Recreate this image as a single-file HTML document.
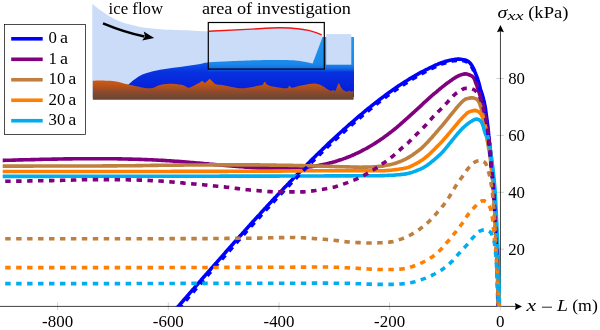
<!DOCTYPE html>
<html><head><meta charset="utf-8"><style>
html,body{margin:0;padding:0;background:#fff;width:600px;height:330px;overflow:hidden}
svg{display:block;will-change:transform;font-family:"Liberation Serif",serif;font-size:16.5px;fill:#000}
</style></head><body>
<svg width="600" height="330" viewBox="0 0 600 330">
<defs>
<clipPath id="pc"><rect x="0" y="0" width="600" height="306.6"/></clipPath>
<linearGradient id="rock" gradientUnits="userSpaceOnUse" x1="0" y1="80" x2="0" y2="100"><stop offset="0" stop-color="#d65a0e"/><stop offset="0.3" stop-color="#b8521a"/><stop offset="0.6" stop-color="#8c4a2c"/><stop offset="0.8" stop-color="#764834"/><stop offset="1" stop-color="#6c4432"/></linearGradient>
<linearGradient id="water" gradientUnits="userSpaceOnUse" x1="0" y1="60" x2="0" y2="97"><stop offset="0" stop-color="#1466e8"/><stop offset="0.16" stop-color="#0c4ae4"/><stop offset="0.32" stop-color="#0832e0"/><stop offset="1" stop-color="#0418d4"/></linearGradient>
<linearGradient id="band" gradientUnits="userSpaceOnUse" x1="0" y1="37" x2="0" y2="71.5"><stop offset="0" stop-color="#2196ee"/><stop offset="0.78" stop-color="#1a88e8"/><stop offset="0.9" stop-color="#1570e6"/><stop offset="1" stop-color="#0c40e2"/></linearGradient>
</defs>
<line x1="57.6" y1="302.4" x2="57.6" y2="309.9" stroke="#b0b0b0" stroke-width="0.6"/>
<line x1="168.3" y1="302.4" x2="168.3" y2="309.9" stroke="#b0b0b0" stroke-width="0.6"/>
<line x1="279.0" y1="302.4" x2="279.0" y2="309.9" stroke="#b0b0b0" stroke-width="0.6"/>
<line x1="389.6" y1="302.4" x2="389.6" y2="309.9" stroke="#b0b0b0" stroke-width="0.6"/>
<line x1="500.3" y1="302.4" x2="500.3" y2="309.9" stroke="#b0b0b0" stroke-width="0.6"/>
<line x1="496.5" y1="249.2" x2="504" y2="249.2" stroke="#b0b0b0" stroke-width="0.6"/>
<line x1="496.5" y1="192.3" x2="504" y2="192.3" stroke="#b0b0b0" stroke-width="0.6"/>
<line x1="496.5" y1="135.4" x2="504" y2="135.4" stroke="#b0b0b0" stroke-width="0.6"/>
<line x1="496.5" y1="78.5" x2="504" y2="78.5" stroke="#b0b0b0" stroke-width="0.6"/>

<line x1="0" y1="306.4" x2="516" y2="306.4" stroke="#000" stroke-width="0.75"/>
<path d="M522 306.4 L514.8 302.9 L515.8 306.4 L514.8 309.9 Z" fill="#000"/>
<line x1="500.45" y1="306.4" x2="500.45" y2="31" stroke="#000" stroke-width="0.75"/>
<path d="M500.45 25 L496.95 32.2 L500.45 31.2 L503.95 32.2 Z" fill="#000"/>

<g clip-path="url(#pc)">
<path d="M173.5 311.9 174.5 310.7 175.5 309.6 176.5 308.5 177.4 307.3 178.4 306.2 179.4 305.1 180.4 303.9 181.4 302.8 182.4 301.7 183.4 300.5 184.3 299.4 185.3 298.3 186.3 297.1 187.3 296.0 188.3 294.9 189.3 293.7 190.2 292.6 191.2 291.5 192.2 290.3 193.2 289.2 194.2 288.1 195.2 286.9 196.1 285.8 197.1 284.7 198.1 283.6 199.1 282.4 200.1 281.3 201.1 280.2 202.0 279.0 203.0 277.9 204.0 276.8 205.0 275.6 206.0 274.5 207.0 273.4 208.0 272.3 209.0 271.1 210.0 270.0 210.9 268.9 211.9 267.8 212.9 266.6 213.9 265.5 214.9 264.4 215.9 263.3 216.9 262.1 217.9 261.0 218.9 259.9 219.9 258.8 220.9 257.6 221.9 256.5 222.9 255.4 223.9 254.3 224.9 253.1 225.8 252.0 226.8 250.9 227.8 249.8 228.8 248.7 229.8 247.5 230.8 246.4 231.8 245.3 232.8 244.2 233.8 243.0 234.8 241.9 235.8 240.8 236.8 239.7 237.8 238.6 238.8 237.4 239.8 236.3 240.8 235.2 241.8 234.1 242.8 233.0 243.8 231.9 244.8 230.7 245.8 229.6 246.8 228.5 247.8 227.4 248.8 226.3 249.8 225.2 250.8 224.0 251.8 222.9 252.8 221.8 253.8 220.7 254.8 219.6 255.8 218.5 256.8 217.4 257.8 216.3 258.9 215.2 259.9 214.1 260.9 212.9 261.9 211.8 262.9 210.7 263.9 209.6 264.9 208.5 266.0 207.4 267.0 206.3 268.0 205.2 269.0 204.1 270.0 203.0 271.1 201.9 272.1 200.8 273.1 199.7 274.1 198.6 275.1 197.5 276.2 196.5 277.2 195.4 278.2 194.3 279.3 193.2 280.3 192.1 281.3 191.0 282.4 189.9 283.4 188.8 284.4 187.7 285.5 186.7 286.5 185.6 287.5 184.5 288.6 183.4 289.6 182.3 290.6 181.3 291.7 180.2 292.7 179.1 293.8 178.0 294.8 176.9 295.9 175.9 296.9 174.8 298.0 173.7 299.0 172.7 300.1 171.6 301.1 170.5 302.2 169.4 303.2 168.4 304.3 167.3 305.3 166.2 306.4 165.2 307.4 164.1 308.5 163.1 309.6 162.0 310.6 160.9 311.7 159.9 312.7 158.8 313.8 157.8 314.9 156.7 315.9 155.7 317.0 154.6 318.1 153.6 319.2 152.5 320.2 151.5 321.3 150.5 322.4 149.4 323.5 148.4 324.6 147.3 325.7 146.3 326.7 145.3 327.8 144.2 328.9 143.2 330.0 142.2 331.1 141.2 332.2 140.2 333.3 139.1 334.4 138.1 335.5 137.1 336.6 136.1 337.7 135.1 338.8 134.0 339.9 133.0 341.0 132.0 342.1 131.0 343.2 130.0 344.4 129.0 345.5 128.0 346.6 127.0 347.7 126.0 348.8 125.0 350.0 124.0 351.1 123.0 352.2 122.1 353.4 121.1 354.5 120.1 355.6 119.1 356.8 118.2 357.9 117.2 359.0 116.2 360.2 115.2 361.3 114.3 362.5 113.3 363.6 112.4 364.8 111.4 365.9 110.4 367.1 109.5 368.3 108.5 369.4 107.6 370.6 106.7 371.8 105.7 372.9 104.8 374.1 103.9 375.3 102.9 376.5 102.0 377.6 101.1 378.8 100.2 380.0 99.3 381.2 98.4 382.4 97.5 383.6 96.6 384.8 95.7 386.0 94.8 387.2 93.9 388.4 93.0 389.6 92.1 390.9 91.3 392.1 90.4 393.3 89.5 394.5 88.7 395.8 87.8 397.0 87.0 398.3 86.1 399.5 85.3 400.8 84.5 402.0 83.7 403.3 82.9 404.5 82.1 405.8 81.3 407.1 80.5 408.3 79.7 409.6 78.9 410.9 78.1 412.2 77.4 413.5 76.6 414.8 75.9 416.1 75.1 417.4 74.4 418.7 73.6 420.0 72.9 421.3 72.2 422.6 71.5 424.0 70.8 425.3 70.1 426.6 69.5 428.0 68.8 429.3 68.1 430.7 67.5 432.0 66.8 433.4 66.2 434.7 65.5 436.1 64.9 437.5 64.3 438.8 63.7 440.2 63.2 441.6 62.7 443.1 62.2 444.5 61.8 445.9 61.3 447.3 60.9 448.8 60.6 450.3 60.2 451.7 59.9 453.2 59.7 454.7 59.4 456.2 59.2 457.6 59.1 459.1 59.1 460.6 59.3 462.1 59.5 463.6 59.7 465.1 60.0 466.5 60.5 467.9 61.2 469.2 62.2 470.3 63.3 471.3 64.6 472.2 66.0 472.9 67.3 473.6 68.7 474.3 70.1 474.8 71.6 475.4 73.0 475.9 74.4 476.5 75.8 477.0 77.2 477.6 78.7 478.0 80.1 478.5 81.7 478.9 83.2 479.3 84.6 479.6 86.1 480.0 87.5 480.4 88.9 480.8 90.3 481.3 91.7 481.8 93.2 482.2 94.6 482.6 96.1 483.1 97.6 483.4 99.0 483.8 100.5 484.2 102.0 484.5 103.6 484.8 105.1 485.1 106.6 485.4 108.2 485.6 109.8 485.8 111.3 486.0 112.8 486.2 114.3 486.4 115.7 486.6 117.2 486.8 118.7 487.0 120.2 487.2 121.7 487.4 123.2 487.6 124.7 487.8 126.2 488.0 127.7 488.1 129.3 488.3 130.8 488.5 132.4 488.6 133.9 488.7 135.4 488.9 136.8 489.0 138.3 489.2 139.8 489.3 141.2 489.5 142.7 489.7 144.2 489.8 145.7 490.0 147.2 490.2 148.7 490.3 150.3 490.5 151.9 490.6 153.4 490.7 154.9 490.8 156.4 490.9 157.9 491.0 159.3 491.2 160.8 491.3 162.2 491.5 163.7 491.6 165.1 491.8 166.6 491.9 168.1 492.1 169.5 492.3 171.0 492.5 172.5 492.7 174.0 492.8 175.5 493.0 177.0 493.2 178.5 493.3 180.1 493.5 181.6 493.6 183.1 493.8 184.7 493.9 186.2 494.0 187.7 494.1 189.3 494.3 190.8 494.4 192.4 494.4 194.0 494.5 195.5 494.6 197.1 494.7 198.6 494.8 200.1 494.8 201.6 494.9 203.1 495.0 204.7 495.0 206.2 495.1 207.7 495.1 209.2 495.2 210.7 495.3 212.2 495.3 213.7 495.4 215.2 495.4 216.7 495.5 218.2 495.6 219.7 495.6 221.2 495.7 222.6 495.8 224.1 495.8 225.6 495.9 227.1 496.0 228.6 496.0 230.1 496.1 231.6 496.2 233.1 496.2 234.6 496.3 236.1 496.4 237.6 496.5 239.1 496.5 240.6 496.6 242.1 496.7 243.6 496.7 245.1 496.8 246.6 496.9 248.1 496.9 249.7 497.0 251.2 497.0 252.7 497.1 254.2 497.1 255.7 497.2 257.2 497.3 258.8 497.3 260.3 497.4 261.8 497.4 263.3 497.5 264.8 497.5 266.3 497.6 267.9 497.6 269.4 497.6 270.9 497.7 272.4 497.7 273.9 497.8 275.4 497.8 276.9 497.9 278.4 497.9 280.0 497.9 281.5 498.0 283.0 498.0 284.5 498.1 286.0 498.1 287.5 498.1 289.0 498.2 290.6 498.2 292.1 498.2 293.6 498.3 295.1 498.3 296.6 498.3 298.1 498.4 299.6 498.4 301.1 498.4 302.6 498.5 304.2 498.5 305.7 498.5 307.3 498.5 308.8 498.6 310.4 498.6 311.8 498.6 312.0" stroke="#0000ff" stroke-width="3.60" fill="none" stroke-linejoin="round"/>
<path d="M2.7 160.4 4.2 160.4 5.7 160.3 7.2 160.3 8.7 160.2 10.2 160.2 11.7 160.2 13.2 160.1 14.7 160.1 16.2 160.0 17.7 160.0 19.2 159.9 20.7 159.9 22.2 159.9 23.7 159.8 25.2 159.8 26.7 159.8 28.2 159.7 29.7 159.7 31.2 159.6 32.7 159.6 34.2 159.6 35.7 159.5 37.2 159.5 38.7 159.5 40.2 159.4 41.7 159.4 43.2 159.3 44.7 159.3 46.2 159.3 47.7 159.2 49.2 159.2 50.7 159.2 52.2 159.1 53.7 159.1 55.2 159.1 56.7 159.1 58.2 159.0 59.7 159.0 61.2 159.0 62.7 159.0 64.2 158.9 65.7 158.9 67.2 158.9 68.7 158.9 70.2 158.9 71.7 158.9 73.2 158.8 74.7 158.8 76.2 158.8 77.7 158.8 79.2 158.8 80.7 158.8 82.2 158.8 83.7 158.8 85.2 158.7 86.7 158.7 88.2 158.7 89.7 158.7 91.2 158.7 92.7 158.7 94.2 158.7 95.7 158.7 97.2 158.7 98.7 158.7 100.2 158.7 101.7 158.7 103.2 158.7 104.7 158.7 106.2 158.7 107.7 158.7 109.2 158.7 110.7 158.8 112.2 158.8 113.7 158.8 115.2 158.8 116.7 158.8 118.2 158.9 119.7 158.9 121.2 158.9 122.7 159.0 124.2 159.0 125.7 159.0 127.2 159.0 128.7 159.1 130.2 159.1 131.7 159.1 133.2 159.2 134.7 159.2 136.2 159.3 137.7 159.3 139.2 159.4 140.7 159.4 142.2 159.5 143.7 159.5 145.2 159.6 146.7 159.6 148.2 159.7 149.7 159.8 151.2 159.8 152.7 159.9 154.2 160.0 155.7 160.0 157.2 160.1 158.7 160.2 160.2 160.3 161.7 160.4 163.1 160.4 164.6 160.5 166.1 160.6 167.6 160.7 169.1 160.8 170.6 160.9 172.1 161.0 173.6 161.1 175.1 161.2 176.6 161.3 178.1 161.4 179.6 161.5 181.1 161.6 182.6 161.8 184.1 161.9 185.6 162.0 187.1 162.1 188.6 162.2 190.1 162.4 191.6 162.5 193.1 162.6 194.6 162.7 196.1 162.9 197.6 163.0 199.0 163.1 200.5 163.3 202.0 163.4 203.5 163.5 205.0 163.7 206.5 163.8 208.0 163.9 209.5 164.1 211.0 164.2 212.5 164.3 214.0 164.5 215.5 164.6 217.0 164.7 218.5 164.9 220.0 165.0 221.5 165.1 223.0 165.3 224.4 165.4 225.9 165.5 227.4 165.7 228.9 165.8 230.4 165.9 231.9 166.0 233.4 166.2 234.9 166.3 236.4 166.4 237.9 166.5 239.4 166.6 240.9 166.7 242.4 166.8 243.9 167.0 245.4 167.1 246.9 167.2 248.4 167.3 249.9 167.4 251.4 167.5 252.9 167.6 254.4 167.7 255.9 167.8 257.3 167.9 258.8 167.9 260.3 167.9 261.8 167.9 263.3 167.9 264.8 167.9 266.3 167.9 267.8 167.9 269.3 167.9 270.8 167.9 272.3 167.9 273.8 167.9 275.3 167.9 276.8 167.9 278.3 167.9 279.8 167.9 281.3 167.9 282.8 167.9 284.3 167.9 285.8 167.9 287.3 167.9 288.8 167.9 290.3 167.9 291.8 167.8 293.3 167.8 294.8 167.8 296.3 167.8 297.8 167.8 299.3 167.8 300.8 167.8 302.3 167.7 303.8 167.6 305.3 167.4 306.8 167.3 308.3 167.1 309.8 166.8 311.3 166.6 312.8 166.4 314.2 166.1 315.7 165.9 317.2 165.7 318.7 165.4 320.2 165.1 321.6 164.9 323.1 164.5 324.6 164.2 326.0 163.9 327.5 163.6 329.0 163.2 330.4 162.8 331.9 162.5 333.3 162.1 334.8 161.7 336.2 161.2 337.6 160.8 339.1 160.3 340.5 159.8 341.9 159.4 343.3 158.9 344.8 158.4 346.2 157.8 347.6 157.3 349.0 156.7 350.4 156.2 351.7 155.6 353.1 155.0 354.5 154.4 355.9 153.7 357.2 153.1 358.6 152.5 359.9 151.8 361.3 151.1 362.6 150.4 363.9 149.7 365.3 149.0 366.6 148.3 367.9 147.6 369.2 146.8 370.5 146.0 371.8 145.3 373.1 144.5 374.3 143.7 375.6 142.9 376.9 142.1 378.1 141.3 379.4 140.4 380.6 139.6 381.9 138.7 383.1 137.9 384.3 137.0 385.5 136.1 386.8 135.2 388.0 134.3 389.2 133.4 390.3 132.5 391.5 131.6 392.7 130.6 393.9 129.7 395.1 128.8 396.2 127.8 397.4 126.8 398.5 125.9 399.7 124.9 400.8 123.9 401.9 122.9 403.1 121.9 404.2 120.9 405.3 119.9 406.4 118.9 407.6 117.9 408.7 116.9 409.8 115.9 410.9 114.9 412.0 113.9 413.1 112.9 414.2 111.9 415.3 110.8 416.4 109.8 417.5 108.8 418.6 107.8 419.7 106.8 420.8 105.8 421.9 104.8 423.0 103.7 424.1 102.7 425.3 101.7 426.4 100.7 427.5 99.7 428.6 98.7 429.7 97.7 430.8 96.7 431.9 95.7 433.1 94.7 434.2 93.7 435.3 92.8 436.5 91.8 437.6 90.8 438.8 89.9 439.9 88.9 441.1 88.0 442.2 87.0 443.4 86.1 444.6 85.2 445.8 84.2 447.0 83.3 448.2 82.5 449.4 81.6 450.6 80.7 451.8 79.9 453.0 79.0 454.3 78.2 455.6 77.4 456.9 76.7 458.2 76.0 459.5 75.4 460.9 74.9 462.3 74.4 463.8 74.1 465.2 73.9 466.7 74.0 468.2 74.4 469.6 75.0 471.0 75.6 472.4 76.4 473.5 77.6 474.4 79.2 475.0 80.7 475.5 82.2 476.0 83.6 476.6 84.9 477.1 86.4 477.6 87.8 478.1 89.3 478.6 90.7 479.0 92.2 479.4 93.6 479.9 95.1 480.3 96.5 480.8 97.9 481.2 99.4 481.6 100.8 482.1 102.1 482.6 103.6 483.1 105.1 483.5 106.7 483.8 108.3 484.1 109.8 484.4 111.3 484.6 112.8 484.9 114.3 485.1 115.8 485.4 117.3 485.6 118.8 485.8 120.3 486.1 121.8 486.3 123.3 486.5 124.8 486.7 126.2 487.0 127.7 487.2 129.1 487.4 130.6 487.7 132.0 488.0 133.5 488.2 135.0 488.5 136.5 488.7 138.1 488.9 139.6 489.2 141.2 489.3 142.7 489.5 144.3 489.7 145.8 489.8 147.3 490.0 148.8 490.1 150.4 490.3 151.9 490.4 153.5 490.5 155.0 490.6 156.5 490.7 158.0 490.9 159.5 491.0 160.9 491.1 162.4 491.2 163.9 491.4 165.3 491.5 166.8 491.6 168.3 491.8 169.8 491.9 171.3 492.1 172.8 492.2 174.3 492.3 175.8 492.5 177.3 492.6 178.8 492.7 180.3 492.9 181.8 493.0 183.3 493.1 184.9 493.2 186.4 493.3 187.9 493.5 189.4 493.6 190.9 493.7 192.5 493.8 194.0 493.9 195.5 494.0 197.0 494.1 198.5 494.1 200.0 494.2 201.5 494.3 203.1 494.4 204.6 494.5 206.1 494.6 207.6 494.7 209.1 494.7 210.6 494.8 212.1 494.9 213.6 495.0 215.1 495.1 216.6 495.1 218.1 495.2 219.6 495.3 221.1 495.4 222.6 495.5 224.1 495.5 225.6 495.6 227.1 495.7 228.6 495.8 230.1 495.8 231.6 495.9 233.1 496.0 234.6 496.1 236.1 496.1 237.6 496.2 239.1 496.3 240.7 496.4 242.2 496.4 243.7 496.5 245.2 496.6 246.7 496.6 248.2 496.7 249.7 496.8 251.2 496.8 252.8 496.9 254.3 496.9 255.8 497.0 257.3 497.1 258.8 497.1 260.3 497.2 261.8 497.2 263.3 497.3 264.9 497.3 266.4 497.4 267.9 497.4 269.4 497.5 270.9 497.5 272.4 497.6 273.9 497.6 275.4 497.7 277.0 497.7 278.5 497.8 280.0 497.8 281.5 497.8 283.0 497.9 284.5 497.9 286.1 498.0 287.6 498.0 289.1 498.0 290.6 498.1 292.1 498.1 293.6 498.2 295.1 498.2 296.7 498.2 298.2 498.3 299.7 498.3 301.2 498.3 302.7 498.4 304.2 498.4 305.7 498.4 307.4 498.5 308.9 498.5 310.5 498.5 311.9 498.5 312.0" stroke="#800080" stroke-width="3.60" fill="none" stroke-linejoin="round"/>
<path d="M2.7 166.1 4.2 166.1 5.7 166.1 7.2 166.1 8.7 166.1 10.2 166.1 11.7 166.1 13.2 166.1 14.7 166.1 16.2 166.1 17.7 166.1 19.2 166.1 20.7 166.1 22.2 166.1 23.7 166.1 25.2 166.1 26.7 166.1 28.2 166.1 29.7 166.1 31.2 166.1 32.7 166.1 34.2 166.0 35.7 166.0 37.2 166.0 38.7 166.0 40.2 166.0 41.7 166.0 43.2 166.0 44.7 166.0 46.2 166.0 47.7 166.0 49.2 166.0 50.7 166.0 52.2 166.0 53.7 166.0 55.2 166.0 56.7 166.0 58.2 166.0 59.7 166.0 61.2 166.0 62.7 166.0 64.2 166.0 65.7 166.0 67.2 166.0 68.7 166.0 70.2 166.0 71.7 166.0 73.2 166.0 74.7 166.0 76.2 166.0 77.7 166.0 79.2 166.0 80.7 166.0 82.2 166.0 83.7 166.0 85.2 166.0 86.7 166.0 88.2 166.0 89.7 166.0 91.2 166.0 92.7 166.0 94.2 166.0 95.7 166.0 97.2 166.0 98.7 166.0 100.2 166.0 101.7 166.0 103.2 165.9 104.7 165.9 106.2 165.9 107.7 165.9 109.2 165.9 110.7 165.9 112.2 165.9 113.7 165.9 115.2 165.9 116.7 165.9 118.2 165.8 119.7 165.8 121.2 165.8 122.7 165.8 124.2 165.8 125.7 165.8 127.2 165.8 128.7 165.7 130.2 165.7 131.7 165.7 133.2 165.7 134.7 165.7 136.2 165.6 137.7 165.6 139.2 165.6 140.7 165.6 142.2 165.6 143.7 165.5 145.2 165.5 146.7 165.5 148.2 165.5 149.7 165.5 151.2 165.4 152.7 165.4 154.2 165.4 155.7 165.4 157.2 165.4 158.7 165.3 160.2 165.3 161.7 165.3 163.2 165.3 164.7 165.3 166.2 165.2 167.7 165.2 169.2 165.2 170.7 165.2 172.2 165.2 173.7 165.1 175.2 165.1 176.7 165.1 178.2 165.1 179.7 165.1 181.2 165.1 182.7 165.1 184.2 165.0 185.7 165.0 187.2 165.0 188.7 165.0 190.2 165.0 191.7 165.0 193.2 165.0 194.7 165.0 196.2 165.0 197.7 165.0 199.2 165.0 200.7 165.0 202.2 165.0 203.7 165.0 205.2 165.0 206.7 165.0 208.2 164.9 209.7 164.9 211.2 164.9 212.7 164.9 214.2 164.9 215.7 164.9 217.2 164.9 218.7 164.9 220.2 164.9 221.7 164.9 223.2 164.9 224.7 164.9 226.2 164.9 227.7 164.9 229.2 164.9 230.7 164.9 232.2 164.9 233.7 164.9 235.2 164.9 236.7 164.9 238.2 164.9 239.7 164.9 241.2 164.9 242.7 164.9 244.2 164.9 245.7 164.9 247.2 164.9 248.7 164.9 250.2 164.9 251.7 164.9 253.2 164.9 254.7 164.9 256.2 164.9 257.7 164.9 259.2 164.9 260.7 165.0 262.2 165.0 263.7 165.0 265.2 165.0 266.7 165.0 268.2 165.0 269.7 165.1 271.2 165.1 272.7 165.1 274.2 165.1 275.7 165.1 277.2 165.2 278.7 165.2 280.2 165.2 281.7 165.2 283.2 165.3 284.7 165.3 286.2 165.3 287.7 165.3 289.2 165.4 290.7 165.4 292.2 165.4 293.7 165.5 295.2 165.5 296.7 165.5 298.2 165.5 299.7 165.6 301.2 165.6 302.7 165.6 304.2 165.7 305.7 165.7 307.2 165.7 308.7 165.8 310.2 165.8 311.7 165.8 313.2 165.9 314.7 165.9 316.2 166.0 317.7 166.0 319.2 166.1 320.7 166.1 322.2 166.1 323.7 166.2 325.2 166.2 326.7 166.3 328.2 166.3 329.7 166.4 331.2 166.4 332.7 166.5 334.2 166.5 335.7 166.6 337.2 166.6 338.7 166.6 340.2 166.7 341.7 166.7 343.2 166.8 344.7 166.8 346.2 166.9 347.7 166.9 349.2 166.9 350.7 167.0 352.2 167.0 353.7 167.1 355.2 167.1 356.7 167.1 358.2 167.1 359.7 167.2 361.2 167.2 362.7 167.1 364.2 167.1 365.7 167.1 367.2 167.1 368.7 167.0 370.2 167.0 371.7 167.0 373.2 166.9 374.7 166.8 376.2 166.7 377.7 166.5 379.1 166.4 380.6 166.3 382.1 166.1 383.6 165.9 385.1 165.6 386.6 165.3 388.1 165.0 389.5 164.7 391.0 164.4 392.4 164.1 393.9 163.7 395.3 163.2 396.8 162.8 398.2 162.3 399.6 161.7 401.0 161.2 402.4 160.6 403.8 159.9 405.1 159.3 406.5 158.6 407.8 157.9 409.1 157.1 410.4 156.3 411.7 155.5 412.9 154.7 414.1 153.8 415.4 152.9 416.6 152.0 417.8 151.1 419.0 150.2 420.1 149.3 421.3 148.3 422.4 147.3 423.6 146.2 424.6 145.2 425.7 144.1 426.8 143.0 427.8 142.0 428.8 140.8 429.8 139.7 430.9 138.6 431.9 137.5 432.8 136.4 433.8 135.2 434.8 134.1 435.8 132.9 436.8 131.8 437.8 130.7 438.7 129.5 439.7 128.4 440.7 127.3 441.7 126.1 442.7 125.0 443.6 123.8 444.6 122.7 445.5 121.5 446.5 120.3 447.4 119.2 448.4 118.0 449.3 116.8 450.2 115.7 451.2 114.5 452.1 113.3 453.1 112.2 454.0 111.0 455.0 109.9 455.9 108.7 456.9 107.5 457.8 106.4 458.8 105.3 459.8 104.2 460.9 103.1 461.9 102.1 463.0 101.0 464.1 100.1 465.2 99.3 466.6 98.8 468.0 98.4 469.5 98.1 470.9 97.9 472.4 97.8 473.9 98.1 475.4 98.6 476.8 99.2 478.0 100.5 478.9 101.9 479.6 103.4 480.1 104.9 480.6 106.4 481.1 107.8 481.5 109.3 482.0 110.8 482.3 112.3 482.7 113.9 483.0 115.4 483.3 116.9 483.6 118.4 483.9 119.9 484.2 121.4 484.4 122.9 484.7 124.4 484.9 125.8 485.2 127.4 485.4 128.9 485.7 130.4 485.9 131.8 486.1 133.3 486.4 134.8 486.6 136.3 486.8 137.8 487.1 139.2 487.3 140.7 487.6 142.1 487.8 143.6 488.1 145.0 488.4 146.5 488.6 148.0 488.9 149.5 489.2 151.0 489.4 152.5 489.7 154.1 489.9 155.6 490.1 157.1 490.3 158.7 490.5 160.2 490.6 161.7 490.8 163.2 491.0 164.7 491.1 166.2 491.3 167.6 491.5 169.1 491.7 170.6 491.8 172.1 492.0 173.6 492.2 175.1 492.3 176.6 492.5 178.1 492.7 179.7 492.8 181.2 493.0 182.7 493.1 184.2 493.2 185.8 493.4 187.3 493.5 188.8 493.6 190.3 493.7 191.9 493.8 193.4 493.9 195.0 494.0 196.5 494.1 198.0 494.2 199.5 494.3 201.1 494.4 202.6 494.5 204.1 494.5 205.6 494.6 207.1 494.7 208.6 494.8 210.1 494.8 211.6 494.9 213.1 495.0 214.6 495.1 216.1 495.1 217.6 495.2 219.1 495.3 220.6 495.4 222.1 495.4 223.6 495.5 225.1 495.6 226.6 495.7 228.1 495.7 229.6 495.8 231.1 495.9 232.6 496.0 234.1 496.0 235.6 496.1 237.1 496.2 238.6 496.3 240.1 496.3 241.6 496.4 243.1 496.5 244.6 496.5 246.2 496.6 247.7 496.7 249.2 496.7 250.7 496.8 252.2 496.9 253.7 496.9 255.3 497.0 256.8 497.0 258.3 497.1 259.8 497.1 261.3 497.2 262.8 497.3 264.3 497.3 265.8 497.4 267.4 497.4 268.9 497.5 270.4 497.5 271.9 497.6 273.4 497.6 274.9 497.7 276.4 497.7 277.9 497.7 279.5 497.8 281.0 497.8 282.5 497.9 284.0 497.9 285.5 498.0 287.0 498.0 288.6 498.0 290.1 498.1 291.6 498.1 293.1 498.1 294.6 498.2 296.1 498.2 297.6 498.3 299.2 498.3 300.7 498.3 302.2 498.4 303.7 498.4 305.2 498.4 306.8 498.4 308.4 498.5 309.9 498.5 311.4 498.5 312.0" stroke="#bf7f3f" stroke-width="3.60" fill="none" stroke-linejoin="round"/>
<path d="M2.7 171.5 4.2 171.5 5.7 171.5 7.2 171.5 8.7 171.5 10.2 171.5 11.7 171.5 13.2 171.5 14.7 171.5 16.2 171.5 17.7 171.5 19.2 171.5 20.7 171.5 22.2 171.5 23.7 171.5 25.2 171.5 26.7 171.5 28.2 171.5 29.7 171.5 31.2 171.5 32.7 171.5 34.2 171.5 35.7 171.5 37.2 171.5 38.7 171.5 40.2 171.5 41.7 171.5 43.2 171.5 44.7 171.5 46.2 171.5 47.7 171.5 49.2 171.5 50.7 171.5 52.2 171.5 53.7 171.5 55.2 171.5 56.7 171.5 58.2 171.5 59.7 171.5 61.2 171.5 62.7 171.5 64.2 171.5 65.7 171.5 67.2 171.5 68.7 171.5 70.2 171.5 71.7 171.5 73.2 171.5 74.7 171.5 76.2 171.5 77.7 171.5 79.2 171.5 80.7 171.5 82.2 171.5 83.7 171.5 85.2 171.5 86.7 171.5 88.2 171.5 89.7 171.5 91.2 171.5 92.7 171.5 94.2 171.5 95.7 171.5 97.2 171.5 98.7 171.5 100.2 171.5 101.7 171.5 103.2 171.5 104.7 171.5 106.2 171.5 107.7 171.5 109.2 171.5 110.7 171.5 112.2 171.5 113.7 171.5 115.2 171.5 116.7 171.5 118.2 171.5 119.7 171.5 121.2 171.5 122.7 171.5 124.2 171.5 125.7 171.5 127.2 171.5 128.7 171.5 130.2 171.5 131.7 171.5 133.2 171.5 134.7 171.5 136.2 171.5 137.7 171.5 139.2 171.5 140.7 171.5 142.2 171.5 143.7 171.5 145.2 171.5 146.7 171.5 148.2 171.5 149.7 171.5 151.2 171.5 152.7 171.5 154.2 171.5 155.7 171.5 157.2 171.5 158.7 171.5 160.2 171.5 161.7 171.5 163.2 171.5 164.7 171.5 166.2 171.5 167.7 171.5 169.2 171.5 170.7 171.5 172.2 171.4 173.7 171.4 175.2 171.4 176.7 171.4 178.2 171.4 179.7 171.4 181.2 171.4 182.7 171.4 184.2 171.4 185.7 171.4 187.2 171.4 188.7 171.4 190.2 171.4 191.7 171.4 193.2 171.4 194.7 171.4 196.2 171.4 197.7 171.4 199.2 171.4 200.7 171.4 202.2 171.4 203.7 171.4 205.2 171.4 206.7 171.4 208.2 171.4 209.7 171.4 211.2 171.4 212.7 171.4 214.2 171.4 215.7 171.4 217.2 171.4 218.7 171.4 220.2 171.4 221.7 171.4 223.2 171.4 224.7 171.4 226.2 171.4 227.7 171.4 229.2 171.3 230.7 171.3 232.2 171.3 233.7 171.3 235.2 171.3 236.7 171.3 238.2 171.3 239.7 171.3 241.2 171.3 242.7 171.3 244.2 171.3 245.7 171.3 247.2 171.3 248.7 171.3 250.2 171.3 251.7 171.3 253.2 171.3 254.7 171.3 256.2 171.3 257.7 171.3 259.2 171.3 260.7 171.3 262.2 171.2 263.7 171.2 265.2 171.2 266.7 171.2 268.2 171.2 269.7 171.2 271.2 171.2 272.7 171.2 274.2 171.1 275.7 171.1 277.2 171.1 278.7 171.1 280.2 171.1 281.7 171.1 283.2 171.0 284.7 171.0 286.2 171.0 287.7 171.0 289.2 171.0 290.7 171.0 292.2 170.9 293.7 170.9 295.2 170.9 296.7 170.9 298.2 170.9 299.7 170.9 301.2 170.9 302.7 170.8 304.2 170.8 305.7 170.8 307.2 170.8 308.7 170.8 310.2 170.8 311.7 170.8 313.2 170.8 314.7 170.7 316.2 170.7 317.7 170.7 319.2 170.7 320.7 170.7 322.2 170.7 323.7 170.7 325.2 170.7 326.7 170.7 328.2 170.7 329.7 170.7 331.2 170.7 332.7 170.7 334.2 170.7 335.7 170.7 337.2 170.7 338.7 170.7 340.2 170.7 341.7 170.7 343.2 170.7 344.7 170.7 346.2 170.7 347.7 170.7 349.2 170.7 350.7 170.7 352.2 170.7 353.7 170.7 355.2 170.7 356.7 170.7 358.2 170.7 359.7 170.7 361.2 170.7 362.7 170.7 364.2 170.7 365.7 170.7 367.2 170.7 368.7 170.7 370.2 170.7 371.7 170.7 373.2 170.7 374.7 170.7 376.2 170.7 377.7 170.7 379.2 170.7 380.7 170.7 382.2 170.7 383.7 170.7 385.2 170.6 386.7 170.5 388.2 170.4 389.7 170.3 391.2 170.2 392.7 170.0 394.2 169.8 395.7 169.6 397.1 169.5 398.6 169.2 400.1 169.0 401.6 168.8 403.1 168.6 404.6 168.3 406.0 168.0 407.5 167.6 408.9 167.1 410.3 166.5 411.7 165.9 413.1 165.2 414.4 164.5 415.7 163.8 417.0 163.1 418.4 162.4 419.7 161.6 420.9 160.8 422.2 160.0 423.5 159.1 424.7 158.2 425.8 157.2 427.0 156.3 428.1 155.3 429.3 154.3 430.4 153.2 431.5 152.2 432.5 151.1 433.6 150.1 434.7 149.0 435.7 147.9 436.8 146.9 437.8 145.8 438.9 144.7 439.9 143.7 441.0 142.6 442.0 141.5 443.0 140.4 444.0 139.2 445.0 138.1 446.0 137.0 447.0 135.8 448.0 134.7 448.9 133.5 449.9 132.4 450.9 131.2 451.8 130.1 452.8 128.9 453.8 127.8 454.7 126.6 455.7 125.5 456.6 124.3 457.6 123.2 458.6 122.0 459.5 120.9 460.5 119.8 461.5 118.7 462.6 117.6 463.6 116.5 464.6 115.5 465.7 114.4 466.7 113.4 467.9 112.5 469.1 111.9 470.5 111.4 471.9 110.9 473.4 110.6 474.9 110.4 476.4 110.6 477.8 111.3 479.1 112.1 480.3 113.2 481.2 114.6 482.0 116.0 482.7 117.7 483.2 119.2 483.6 120.7 484.0 122.1 484.5 123.5 484.9 125.0 485.4 126.4 485.8 127.9 486.2 129.4 486.5 131.0 486.8 132.5 487.1 134.0 487.4 135.6 487.7 137.1 487.9 138.6 488.2 140.0 488.4 141.5 488.7 143.0 488.9 144.5 489.2 145.9 489.4 147.4 489.7 148.9 489.9 150.4 490.2 151.9 490.4 153.5 490.6 155.1 490.8 156.7 490.9 158.3 491.1 159.9 491.2 161.4 491.3 162.9 491.4 164.3 491.6 165.8 491.7 167.2 491.9 168.7 492.0 170.2 492.1 171.7 492.3 173.2 492.5 174.7 492.6 176.2 492.8 177.7 492.9 179.2 493.0 180.7 493.2 182.2 493.3 183.7 493.4 185.3 493.6 186.8 493.7 188.3 493.8 189.9 493.9 191.4 494.0 192.9 494.1 194.5 494.2 196.0 494.3 197.5 494.3 199.1 494.4 200.6 494.5 202.1 494.6 203.6 494.7 205.1 494.7 206.6 494.8 208.1 494.9 209.6 494.9 211.1 495.0 212.6 495.1 214.1 495.2 215.6 495.2 217.1 495.3 218.6 495.4 220.1 495.4 221.6 495.5 223.1 495.6 224.6 495.7 226.1 495.7 227.6 495.8 229.1 495.9 230.6 496.0 232.1 496.0 233.6 496.1 235.1 496.2 236.6 496.3 238.1 496.3 239.6 496.4 241.1 496.5 242.6 496.5 244.1 496.6 245.6 496.7 247.1 496.8 248.7 496.8 250.2 496.9 251.7 496.9 253.2 497.0 254.7 497.1 256.3 497.1 257.8 497.2 259.3 497.2 260.8 497.3 262.3 497.3 263.8 497.4 265.4 497.4 266.9 497.5 268.4 497.5 269.9 497.6 271.4 497.6 272.9 497.7 274.5 497.7 276.0 497.7 277.5 497.8 279.0 497.8 280.5 497.9 282.0 497.9 283.5 497.9 285.1 498.0 286.6 498.0 288.1 498.0 289.6 498.1 291.1 498.1 292.6 498.1 294.1 498.2 295.6 498.2 297.2 498.2 298.7 498.3 300.2 498.3 301.7 498.3 303.2 498.4 304.7 498.4 306.2 498.4 307.8 498.5 309.4 498.5 310.9 498.5 312.0" stroke="#ff7f00" stroke-width="3.60" fill="none" stroke-linejoin="round"/>
<path d="M2.7 176.4 4.2 176.4 5.7 176.4 7.2 176.4 8.7 176.4 10.2 176.4 11.7 176.4 13.2 176.4 14.7 176.4 16.2 176.4 17.7 176.4 19.2 176.4 20.7 176.4 22.2 176.4 23.7 176.4 25.2 176.4 26.7 176.4 28.2 176.4 29.7 176.4 31.2 176.4 32.7 176.4 34.2 176.4 35.7 176.4 37.2 176.4 38.7 176.4 40.2 176.4 41.7 176.4 43.2 176.4 44.7 176.4 46.2 176.4 47.7 176.4 49.2 176.4 50.7 176.4 52.2 176.3 53.7 176.3 55.2 176.3 56.7 176.3 58.2 176.3 59.7 176.3 61.2 176.3 62.7 176.3 64.2 176.3 65.7 176.3 67.2 176.3 68.7 176.3 70.2 176.3 71.7 176.3 73.2 176.3 74.7 176.3 76.2 176.3 77.7 176.3 79.2 176.3 80.7 176.3 82.2 176.3 83.7 176.3 85.2 176.3 86.7 176.3 88.2 176.3 89.7 176.3 91.2 176.3 92.7 176.3 94.2 176.3 95.7 176.3 97.2 176.3 98.7 176.3 100.2 176.3 101.7 176.3 103.2 176.3 104.7 176.3 106.2 176.3 107.7 176.3 109.2 176.3 110.7 176.3 112.2 176.3 113.7 176.3 115.2 176.3 116.7 176.3 118.2 176.3 119.7 176.3 121.2 176.3 122.7 176.3 124.2 176.3 125.7 176.3 127.2 176.3 128.7 176.3 130.2 176.3 131.7 176.3 133.2 176.3 134.7 176.3 136.2 176.2 137.7 176.2 139.2 176.2 140.7 176.2 142.2 176.2 143.7 176.2 145.2 176.2 146.7 176.2 148.2 176.2 149.7 176.2 151.2 176.2 152.7 176.2 154.2 176.2 155.7 176.2 157.2 176.2 158.7 176.2 160.2 176.2 161.7 176.2 163.2 176.2 164.7 176.2 166.2 176.2 167.7 176.2 169.2 176.2 170.7 176.2 172.2 176.2 173.7 176.2 175.2 176.2 176.7 176.2 178.2 176.2 179.7 176.2 181.2 176.2 182.7 176.2 184.2 176.2 185.7 176.2 187.2 176.2 188.7 176.2 190.2 176.2 191.7 176.2 193.2 176.2 194.7 176.2 196.2 176.2 197.7 176.2 199.2 176.2 200.7 176.2 202.2 176.2 203.7 176.2 205.2 176.2 206.7 176.2 208.2 176.2 209.7 176.2 211.2 176.2 212.7 176.2 214.2 176.2 215.7 176.2 217.2 176.2 218.7 176.2 220.2 176.1 221.7 176.1 223.2 176.1 224.7 176.1 226.2 176.1 227.7 176.1 229.2 176.1 230.7 176.1 232.2 176.1 233.7 176.1 235.2 176.1 236.7 176.1 238.2 176.1 239.7 176.1 241.2 176.1 242.7 176.1 244.2 176.1 245.7 176.1 247.2 176.1 248.7 176.1 250.2 176.1 251.7 176.1 253.2 176.1 254.7 176.1 256.2 176.1 257.7 176.1 259.2 176.1 260.7 176.1 262.2 176.1 263.7 176.1 265.2 176.1 266.7 176.1 268.2 176.1 269.7 176.1 271.2 176.1 272.7 176.1 274.2 176.1 275.7 176.1 277.2 176.1 278.7 176.1 280.2 176.0 281.7 176.0 283.2 176.0 284.7 176.0 286.2 176.0 287.7 176.0 289.2 176.0 290.7 176.0 292.2 176.0 293.7 176.0 295.2 176.0 296.7 176.0 298.2 176.0 299.7 176.0 301.2 176.0 302.7 176.0 304.2 176.0 305.7 176.0 307.2 176.0 308.7 176.0 310.2 176.0 311.7 176.0 313.2 176.0 314.7 176.0 316.2 176.0 317.7 176.0 319.2 176.0 320.7 176.0 322.2 176.0 323.7 176.0 325.2 175.9 326.7 175.9 328.2 175.9 329.7 175.9 331.2 175.9 332.7 175.9 334.2 175.9 335.7 175.9 337.2 175.9 338.7 175.9 340.2 175.9 341.7 175.9 343.2 175.9 344.7 175.9 346.2 175.9 347.7 175.9 349.2 175.9 350.7 175.9 352.2 175.9 353.7 175.8 355.2 175.8 356.7 175.8 358.2 175.8 359.7 175.8 361.2 175.8 362.7 175.8 364.2 175.8 365.7 175.8 367.2 175.8 368.7 175.8 370.2 175.7 371.7 175.7 373.2 175.7 374.7 175.7 376.2 175.7 377.7 175.7 379.2 175.7 380.7 175.6 382.2 175.6 383.7 175.6 385.2 175.5 386.7 175.5 388.2 175.4 389.7 175.3 391.2 175.3 392.7 175.2 394.2 175.1 395.7 175.0 397.2 174.8 398.7 174.7 400.2 174.6 401.7 174.4 403.2 174.3 404.6 174.1 406.1 173.9 407.6 173.6 409.1 173.2 410.5 172.8 412.0 172.4 413.4 171.9 414.8 171.4 416.2 170.8 417.6 170.3 419.0 169.7 420.4 169.1 421.7 168.5 423.1 167.8 424.4 167.0 425.7 166.2 426.9 165.4 428.2 164.5 429.4 163.6 430.6 162.7 431.8 161.7 433.0 160.8 434.1 159.8 435.2 158.8 436.4 157.8 437.5 156.8 438.6 155.8 439.7 154.8 440.8 153.8 441.9 152.7 443.0 151.6 444.0 150.4 444.9 149.3 445.9 148.1 446.9 147.0 447.8 145.8 448.7 144.6 449.7 143.4 450.6 142.3 451.5 141.1 452.5 139.9 453.4 138.8 454.4 137.6 455.3 136.5 456.3 135.3 457.2 134.2 458.2 133.0 459.2 131.9 460.2 130.8 461.2 129.7 462.2 128.6 463.3 127.6 464.4 126.6 465.5 125.7 466.7 124.7 467.8 123.8 469.0 122.9 470.2 122.0 471.5 121.2 472.7 120.4 474.0 119.8 475.4 119.2 476.8 119.0 478.3 119.4 479.7 120.2 480.9 121.3 481.8 122.8 482.5 124.3 483.0 125.8 483.5 127.3 483.9 128.7 484.3 130.2 484.7 131.7 485.1 133.0 485.6 134.3 486.2 135.4 487.0 136.6 487.8 137.9 488.5 139.6 489.1 141.4 489.4 143.1 489.6 144.6 489.8 146.2 490.1 147.6 490.3 149.1 490.5 150.6 490.7 152.1 490.9 153.6 491.1 155.1 491.4 156.6 491.6 158.1 491.8 159.6 491.9 161.1 492.1 162.6 492.3 164.1 492.5 165.6 492.7 167.1 492.9 168.6 493.1 170.1 493.2 171.6 493.4 173.1 493.6 174.6 493.7 176.1 493.9 177.7 494.1 179.2 494.2 180.7 494.3 182.2 494.5 183.7 494.6 185.3 494.7 186.8 494.9 188.3 495.0 189.8 495.1 191.4 495.2 192.9 495.3 194.5 495.4 196.0 495.5 197.5 495.6 199.1 495.6 200.6 495.7 202.1 495.8 203.6 495.9 205.1 495.9 206.6 496.0 208.2 496.1 209.7 496.2 211.2 496.2 212.7 496.3 214.2 496.4 215.7 496.4 217.2 496.5 218.7 496.6 220.2 496.6 221.7 496.7 223.2 496.8 224.7 496.9 226.1 496.9 227.6 497.0 229.1 497.1 230.6 497.1 232.1 497.2 233.6 497.3 235.1 497.4 236.6 497.4 238.1 497.5 239.7 497.6 241.2 497.6 242.7 497.7 244.2 497.8 245.7 497.8 247.2 497.9 248.7 497.9 250.2 498.0 251.8 498.1 253.3 498.1 254.8 498.2 256.3 498.2 257.8 498.3 259.3 498.3 260.9 498.4 262.4 498.4 264.0 498.5 265.5 498.5 267.0 498.6 268.5 498.6 270.0 498.6 271.6 498.7 273.1 498.7 274.6 498.7 276.1 498.8 277.6 498.8 279.1 498.9 280.6 498.9 282.1 498.9 283.6 499.0 285.1 499.0 286.6 499.0 288.1 499.1 289.6 499.1 291.1 499.1 292.6 499.2 294.1 499.2 295.6 499.3 297.1 499.3 298.5 499.3 300.0 499.4 301.5 499.4 303.0 499.5 304.5 499.5 305.9 499.5 307.4 499.6 308.9 499.6 310.3 499.7 311.8 499.7 312.0" stroke="#00aeef" stroke-width="3.60" fill="none" stroke-linejoin="round"/>
<path d="M174.9 313.0 175.9 311.9 176.8 310.8 177.8 309.6 178.8 308.5 179.8 307.4 180.8 306.3 181.8 305.1 182.7 304.0 183.7 302.9 184.7 301.7 185.7 300.6 186.7 299.5 187.7 298.3 188.6 297.2 189.6 296.1 190.6 294.9 191.6 293.8 192.6 292.7 193.6 291.5 194.5 290.4 195.5 289.3 196.5 288.1 197.5 287.0 198.5 285.9 199.5 284.7 200.4 283.6 201.4 282.5 202.4 281.3 203.4 280.2 204.4 279.1 205.4 278.0 206.4 276.8 207.3 275.7 208.3 274.6 209.3 273.4 210.3 272.3 211.3 271.2 212.3 270.1 213.3 268.9 214.3 267.8 215.3 266.7 216.3 265.6 217.2 264.4 218.2 263.3 219.2 262.2 220.2 261.1 221.2 260.0 222.2 258.8 223.2 257.7 224.2 256.6 225.2 255.5 226.2 254.3 227.2 253.2 228.2 252.1 229.2 251.0 230.2 249.8 231.2 248.7 232.2 247.6 233.1 246.5 234.1 245.4 235.1 244.2 236.1 243.1 237.1 242.0 238.1 240.9 239.1 239.8 240.1 238.6 241.1 237.5 242.1 236.4 243.1 235.3 244.1 234.2 245.1 233.0 246.1 231.9 247.1 230.8 248.1 229.7 249.1 228.6 250.1 227.5 251.1 226.3 252.1 225.2 253.1 224.1 254.1 223.0 255.1 221.9 256.1 220.8 257.1 219.7 258.2 218.6 259.2 217.5 260.2 216.4 261.2 215.2 262.2 214.1 263.2 213.0 264.2 211.9 265.2 210.8 266.2 209.7 267.3 208.6 268.3 207.5 269.3 206.4 270.3 205.3 271.3 204.2 272.3 203.1 273.4 202.0 274.4 200.9 275.4 199.8 276.4 198.8 277.5 197.7 278.5 196.6 279.5 195.5 280.5 194.4 281.6 193.3 282.6 192.2 283.6 191.1 284.7 190.0 285.7 189.0 286.7 187.9 287.8 186.8 288.8 185.7 289.8 184.6 290.9 183.5 291.9 182.5 292.9 181.4 294.0 180.3 295.0 179.2 296.1 178.2 297.1 177.1 298.2 176.0 299.2 174.9 300.3 173.9 301.3 172.8 302.4 171.7 303.4 170.7 304.5 169.6 305.5 168.5 306.6 167.5 307.6 166.4 308.7 165.4 309.7 164.3 310.8 163.2 311.8 162.2 312.9 161.1 314.0 160.1 315.0 159.0 316.1 158.0 317.2 156.9 318.2 155.9 319.3 154.8 320.4 153.8 321.5 152.7 322.5 151.7 323.6 150.7 324.7 149.6 325.8 148.6 326.9 147.6 327.9 146.5 329.0 145.5 330.1 144.5 331.2 143.5 332.3 142.4 333.4 141.4 334.5 140.4 335.6 139.4 336.7 138.4 337.8 137.4 338.9 136.3 340.0 135.3 341.1 134.3 342.2 133.3 343.3 132.3 344.4 131.3 345.5 130.3 346.6 129.3 347.7 128.3 348.9 127.3 350.0 126.3 351.1 125.3 352.2 124.3 353.3 123.4 354.5 122.4 355.6 121.4 356.7 120.4 357.9 119.5 359.0 118.5 360.2 117.5 361.3 116.6 362.4 115.6 363.6 114.6 364.7 113.7 365.9 112.7 367.0 111.8 368.2 110.8 369.3 109.9 370.5 108.9 371.7 108.0 372.8 107.1 374.0 106.1 375.2 105.2 376.3 104.3 377.5 103.4 378.7 102.4 379.9 101.5 381.1 100.6 382.2 99.7 383.4 98.8 384.6 97.9 385.8 97.0 387.0 96.1 388.2 95.3 389.4 94.4 390.6 93.5 391.9 92.6 393.1 91.8 394.3 90.9 395.5 90.1 396.7 89.2 398.0 88.4 399.2 87.6 400.4 86.7 401.7 85.9 402.9 85.1 404.2 84.3 405.4 83.5 406.7 82.7 407.9 81.9 409.2 81.1 410.5 80.3 411.7 79.5 413.0 78.7 414.3 78.0 415.6 77.2 416.8 76.4 418.1 75.7 419.4 75.0 420.7 74.2 422.0 73.5 423.3 72.8 424.6 72.1 426.0 71.4 427.3 70.7 428.6 70.1 429.9 69.4 431.3 68.7 432.6 68.1 434.0 67.4 435.3 66.8 436.6 66.1 438.0 65.5 439.3 65.0 440.7 64.4 442.1 63.9 443.5 63.4 444.9 63.0 446.3 62.5 447.7 62.1 449.1 61.8 450.5 61.4 452.0 61.1 453.4 60.8 454.8 60.6 456.3 60.4 457.7 60.3 459.1 60.3 460.5 60.4 462.0 60.6 463.4 60.8 464.8 61.1 466.1 61.5 467.4 62.1 468.6 62.9 469.6 63.9 470.6 65.1 471.4 66.4 472.2 67.7 472.9 69.0 473.5 70.5 474.1 71.9 474.7 73.3 475.3 74.6 475.8 76.0 476.4 77.5 476.9 78.9 477.4 80.3 477.9 81.9 478.3 83.3 478.7 84.8 479.1 86.2 479.4 87.7 479.8 89.1 480.3 90.5 480.7 91.9 481.2 93.3 481.6 94.8 482.1 96.2 482.5 97.7 482.9 99.2 483.2 100.7 483.6 102.2 483.9 103.7 484.2 105.2 484.5 106.7 484.8 108.3 485.0 109.8 485.2 111.4 485.4 112.9 485.6 114.3 485.8 115.8 486.0 117.3 486.2 118.8 486.4 120.3 486.6 121.8 486.8 123.3 487.0 124.8 487.2 126.3 487.4 127.8 487.5 129.4 487.7 130.9 487.9 132.4 488.0 133.9 488.1 135.4 488.3 136.9 488.4 138.4 488.6 139.8 488.7 141.3 488.9 142.7 489.1 144.2 489.2 145.7 489.4 147.2 489.6 148.8 489.7 150.3 489.9 151.9 490.0 153.5 490.1 155.0 490.2 156.5 490.3 158.0 490.4 159.4 490.6 160.8 490.7 162.3 490.9 163.7 491.0 165.2 491.2 166.7 491.3 168.1 491.5 169.6 491.7 171.1 491.9 172.6 492.1 174.0 492.2 175.6 492.4 177.1 492.6 178.6 492.7 180.1 492.9 181.7 493.0 183.2 493.2 184.7 493.3 186.3 493.4 187.8 493.5 189.3 493.7 190.9 493.8 192.5 493.8 194.0 493.9 195.6 494.0 197.1 494.1 198.6 494.2 200.1 494.2 201.7 494.3 203.2 494.4 204.7 494.4 206.2 494.5 207.7 494.5 209.2 494.6 210.7 494.7 212.2 494.7 213.7 494.8 215.2 494.8 216.7 494.9 218.2 495.0 219.7 495.0 221.2 495.1 222.7 495.2 224.2 495.2 225.6 495.3 227.1 495.4 228.6 495.4 230.1 495.5 231.6 495.6 233.1 495.6 234.6 495.7 236.1 495.8 237.6 495.9 239.1 495.9 240.6 496.0 242.1 496.1 243.6 496.1 245.1 496.2 246.7 496.3 248.2 496.3 249.7 496.4 251.2 496.4 252.7 496.5 254.2 496.5 255.7 496.6 257.3 496.7 258.8 496.7 260.3 496.8 261.8 496.8 263.3 496.9 264.8 496.9 266.4 497.0 267.9 497.0 269.4 497.0 270.9 497.1 272.4 497.1 273.9 497.2 275.4 497.2 277.0 497.3 278.5 497.3 280.0 497.3 281.5 497.4 283.0 497.4 284.5 497.5 286.0 497.5 287.5 497.5 289.1 497.6 290.6 497.6 292.1 497.6 293.6 497.7 295.1 497.7 296.6 497.7 298.1 497.8 299.6 497.8 301.1 497.8 302.7 497.9 304.2 497.9 305.7 497.9 307.3 497.9 308.8 498.0 310.4 498.0 311.9 498.0 312.0" stroke="#0000ff" stroke-width="3.60" fill="none" stroke-dasharray="5.45 5.5" stroke-dashoffset="5.40" stroke-linejoin="round"/>
<path d="M2.7 181.3 4.2 181.3 5.7 181.3 7.2 181.2 8.7 181.2 10.2 181.2 11.7 181.2 13.2 181.2 14.7 181.1 16.2 181.1 17.7 181.1 19.2 181.1 20.7 181.1 22.2 181.0 23.7 181.0 25.2 181.0 26.7 181.0 28.2 181.0 29.7 180.9 31.2 180.9 32.7 180.9 34.2 180.9 35.7 180.8 37.2 180.8 38.7 180.8 40.2 180.8 41.7 180.7 43.2 180.7 44.7 180.7 46.2 180.7 47.7 180.6 49.2 180.6 50.7 180.6 52.2 180.6 53.7 180.5 55.2 180.5 56.7 180.5 58.2 180.4 59.7 180.4 61.2 180.4 62.7 180.3 64.2 180.3 65.7 180.2 67.2 180.2 68.7 180.2 70.2 180.1 71.7 180.1 73.2 180.0 74.7 180.0 76.2 180.0 77.7 179.9 79.2 179.9 80.7 179.9 82.2 179.8 83.7 179.8 85.2 179.8 86.7 179.7 88.2 179.7 89.7 179.7 91.2 179.7 92.7 179.6 94.2 179.6 95.7 179.6 97.2 179.6 98.7 179.6 100.2 179.6 101.7 179.6 103.2 179.6 104.7 179.6 106.2 179.6 107.7 179.6 109.2 179.6 110.7 179.6 112.2 179.7 113.7 179.7 115.2 179.7 116.7 179.7 118.2 179.7 119.7 179.7 121.2 179.7 122.7 179.8 124.2 179.8 125.7 179.8 127.2 179.8 128.7 179.9 130.2 179.9 131.7 179.9 133.2 179.9 134.7 180.0 136.2 180.0 137.7 180.0 139.2 180.1 140.7 180.1 142.2 180.1 143.7 180.2 145.2 180.3 146.7 180.3 148.2 180.4 149.7 180.5 151.2 180.6 152.7 180.6 154.2 180.7 155.7 180.8 157.2 180.9 158.7 181.0 160.2 181.0 161.7 181.1 163.2 181.3 164.6 181.4 166.1 181.5 167.6 181.6 169.1 181.8 170.6 181.9 172.1 182.0 173.6 182.1 175.1 182.3 176.6 182.4 178.1 182.5 179.6 182.7 181.1 182.8 182.6 182.9 184.1 183.1 185.6 183.2 187.1 183.3 188.6 183.5 190.0 183.6 191.5 183.7 193.0 183.9 194.5 184.0 196.0 184.1 197.5 184.3 199.0 184.4 200.5 184.6 202.0 184.7 203.5 184.8 205.0 185.0 206.5 185.1 208.0 185.3 209.5 185.4 211.0 185.6 212.4 185.7 213.9 185.9 215.4 186.0 216.9 186.2 218.4 186.3 219.9 186.5 221.4 186.6 222.9 186.8 224.4 186.9 225.9 187.1 227.4 187.2 228.9 187.4 230.4 187.6 231.8 187.8 233.3 188.0 234.8 188.2 236.3 188.4 237.8 188.6 239.3 188.8 240.8 189.0 242.3 189.1 243.7 189.3 245.2 189.5 246.7 189.7 248.2 189.8 249.7 190.0 251.2 190.1 252.7 190.3 254.2 190.4 255.7 190.5 257.2 190.6 258.7 190.8 260.2 190.9 261.7 191.0 263.2 191.1 264.6 191.3 266.1 191.4 267.6 191.5 269.1 191.6 270.6 191.6 272.1 191.7 273.6 191.8 275.1 191.8 276.6 191.9 278.1 191.9 279.6 191.9 281.1 191.9 282.6 191.9 284.1 191.9 285.6 191.9 287.1 191.9 288.6 191.9 290.1 191.9 291.6 191.9 293.1 191.9 294.6 191.9 296.1 191.9 297.6 191.9 299.1 191.9 300.6 191.9 302.1 191.9 303.6 191.9 305.1 191.8 306.6 191.7 308.1 191.5 309.6 191.3 311.1 191.1 312.6 190.9 314.1 190.7 315.5 190.5 317.0 190.2 318.5 190.0 320.0 189.8 321.5 189.5 323.0 189.3 324.4 189.0 325.9 188.8 327.4 188.5 328.9 188.2 330.3 187.9 331.8 187.6 333.3 187.3 334.7 186.9 336.2 186.5 337.6 186.1 339.1 185.6 340.5 185.2 341.9 184.6 343.3 184.1 344.7 183.6 346.1 183.1 347.5 182.6 348.9 182.0 350.3 181.5 351.7 181.0 353.1 180.4 354.5 179.9 355.9 179.3 357.3 178.7 358.7 178.0 360.0 177.4 361.4 176.7 362.7 176.0 364.0 175.3 365.3 174.6 366.7 173.9 368.0 173.1 369.3 172.4 370.6 171.6 371.8 170.8 373.1 170.0 374.4 169.2 375.6 168.4 376.9 167.6 378.2 166.7 379.4 165.9 380.7 165.0 381.9 164.2 383.1 163.3 384.4 162.5 385.6 161.6 386.8 160.7 388.0 159.8 389.2 159.0 390.4 158.0 391.6 157.1 392.8 156.2 394.0 155.2 395.1 154.2 396.3 153.2 397.4 152.2 398.5 151.2 399.6 150.2 400.7 149.2 401.8 148.2 402.9 147.2 404.1 146.3 405.2 145.3 406.3 144.3 407.5 143.3 408.6 142.3 409.7 141.2 410.8 140.2 411.8 139.1 412.9 138.1 414.0 137.0 415.0 135.9 416.1 134.8 417.1 133.8 418.2 132.7 419.2 131.7 420.3 130.6 421.4 129.6 422.4 128.5 423.5 127.4 424.6 126.4 425.6 125.3 426.6 124.1 427.6 123.0 428.6 121.9 429.6 120.7 430.6 119.6 431.6 118.5 432.6 117.4 433.6 116.3 434.7 115.3 435.7 114.2 436.8 113.2 437.9 112.1 438.9 111.1 440.0 110.0 441.0 108.9 442.1 107.8 443.1 106.8 444.2 105.7 445.2 104.6 446.2 103.5 447.3 102.4 448.3 101.3 449.3 100.2 450.3 99.1 451.3 98.0 452.3 96.9 453.3 95.8 454.4 94.8 455.5 93.8 456.7 93.0 457.9 92.2 459.2 91.5 460.5 90.7 461.8 89.8 463.0 89.1 464.3 88.5 465.8 88.4 467.3 88.4 468.8 88.3 470.3 88.3 471.8 88.7 473.2 89.3 474.5 90.0 475.8 91.1 476.9 92.3 477.8 93.5 478.7 94.8 479.5 96.3 480.1 97.7 480.7 99.2 481.2 100.6 481.7 102.1 482.2 103.6 482.6 105.1 483.0 106.6 483.3 108.1 483.7 109.6 484.0 111.1 484.3 112.6 484.6 114.1 484.9 115.5 485.2 117.0 485.6 118.4 485.9 119.9 486.2 121.4 486.6 122.9 486.9 124.4 487.1 125.9 487.4 127.4 487.7 129.0 487.9 130.6 488.1 132.1 488.3 133.6 488.4 135.1 488.6 136.6 488.8 138.1 489.0 139.6 489.1 141.1 489.3 142.6 489.5 144.1 489.7 145.6 489.8 147.1 490.0 148.7 490.1 150.2 490.3 151.8 490.4 153.3 490.5 154.8 490.6 156.4 490.7 157.8 490.8 159.3 491.0 160.8 491.1 162.3 491.2 163.7 491.3 165.2 491.5 166.7 491.6 168.2 491.7 169.7 491.9 171.2 492.0 172.7 492.1 174.2 492.3 175.7 492.4 177.2 492.5 178.7 492.7 180.2 492.8 181.7 492.9 183.2 493.0 184.7 493.1 186.3 493.2 187.8 493.4 189.3 493.5 190.8 493.6 192.3 493.7 193.8 493.8 195.4 493.9 196.9 493.9 198.4 494.0 199.9 494.1 201.4 494.2 202.9 494.3 204.4 494.4 205.9 494.5 207.4 494.6 208.9 494.6 210.4 494.7 212.0 494.8 213.5 494.9 215.0 495.0 216.5 495.0 218.0 495.1 219.5 495.2 221.0 495.3 222.5 495.3 224.0 495.4 225.5 495.5 227.0 495.6 228.5 495.7 230.0 495.7 231.5 495.8 233.0 495.9 234.5 496.0 236.0 496.0 237.5 496.1 239.0 496.2 240.5 496.3 242.0 496.3 243.5 496.4 245.0 496.5 246.6 496.5 248.1 496.6 249.6 496.7 251.1 496.7 252.6 496.8 254.1 496.8 255.6 496.9 257.2 497.0 258.7 497.0 260.2 497.1 261.7 497.1 263.2 497.2 264.7 497.2 266.2 497.3 267.7 497.3 269.3 497.4 270.8 497.4 272.3 497.5 273.8 497.5 275.3 497.6 276.8 497.6 278.3 497.7 279.9 497.7 281.4 497.7 282.9 497.8 284.4 497.8 285.9 497.9 287.4 497.9 288.9 497.9 290.5 498.0 292.0 498.0 293.5 498.1 295.0 498.1 296.5 498.1 298.0 498.2 299.5 498.2 301.1 498.2 302.6 498.3 304.1 498.3 305.6 498.3 307.2 498.3 308.8 498.4 310.3 498.4 311.8 498.4 312.0" stroke="#800080" stroke-width="3.60" fill="none" stroke-dasharray="5.45 5.5" stroke-dashoffset="-2.50" stroke-linejoin="round"/>
<path d="M2.7 238.7 4.2 238.7 5.7 238.7 7.2 238.7 8.7 238.7 10.2 238.7 11.7 238.7 13.2 238.7 14.7 238.7 16.2 238.7 17.7 238.7 19.2 238.7 20.7 238.7 22.2 238.7 23.7 238.7 25.2 238.7 26.7 238.7 28.2 238.7 29.7 238.7 31.2 238.7 32.7 238.7 34.2 238.7 35.7 238.7 37.2 238.7 38.7 238.7 40.2 238.7 41.7 238.7 43.2 238.7 44.7 238.7 46.2 238.7 47.7 238.7 49.2 238.7 50.7 238.7 52.2 238.7 53.7 238.7 55.2 238.7 56.7 238.7 58.2 238.7 59.7 238.7 61.2 238.7 62.7 238.7 64.2 238.7 65.7 238.7 67.2 238.7 68.7 238.7 70.2 238.7 71.7 238.7 73.2 238.7 74.7 238.7 76.2 238.7 77.7 238.7 79.2 238.7 80.7 238.7 82.2 238.7 83.7 238.7 85.2 238.7 86.7 238.7 88.2 238.7 89.7 238.7 91.2 238.7 92.7 238.7 94.2 238.7 95.7 238.7 97.2 238.7 98.7 238.7 100.2 238.7 101.7 238.7 103.2 238.7 104.7 238.7 106.2 238.7 107.7 238.7 109.2 238.7 110.7 238.7 112.2 238.7 113.7 238.7 115.2 238.7 116.7 238.7 118.2 238.7 119.7 238.7 121.2 238.7 122.7 238.7 124.2 238.7 125.7 238.7 127.2 238.7 128.7 238.7 130.2 238.7 131.7 238.7 133.2 238.7 134.7 238.7 136.2 238.7 137.7 238.7 139.2 238.7 140.7 238.7 142.2 238.7 143.7 238.7 145.2 238.7 146.7 238.7 148.2 238.7 149.7 238.7 151.2 238.7 152.7 238.7 154.2 238.7 155.7 238.7 157.2 238.7 158.7 238.7 160.2 238.7 161.7 238.7 163.2 238.7 164.7 238.7 166.2 238.7 167.7 238.7 169.2 238.7 170.7 238.6 172.2 238.6 173.7 238.6 175.2 238.6 176.7 238.6 178.2 238.6 179.7 238.6 181.2 238.6 182.7 238.6 184.2 238.6 185.7 238.6 187.2 238.6 188.7 238.6 190.2 238.6 191.7 238.6 193.2 238.6 194.7 238.6 196.2 238.6 197.7 238.6 199.2 238.6 200.7 238.6 202.2 238.6 203.7 238.6 205.2 238.6 206.7 238.6 208.2 238.6 209.7 238.6 211.2 238.6 212.7 238.5 214.2 238.5 215.7 238.5 217.2 238.5 218.7 238.5 220.2 238.5 221.7 238.5 223.2 238.5 224.7 238.5 226.2 238.4 227.7 238.4 229.2 238.4 230.7 238.4 232.2 238.4 233.7 238.4 235.2 238.4 236.7 238.3 238.2 238.3 239.7 238.3 241.2 238.3 242.7 238.3 244.2 238.3 245.7 238.2 247.2 238.2 248.7 238.2 250.2 238.2 251.7 238.2 253.2 238.2 254.7 238.1 256.2 238.1 257.7 238.1 259.2 238.1 260.7 238.0 262.2 238.0 263.7 238.0 265.2 237.9 266.7 237.9 268.2 237.9 269.7 237.8 271.2 237.8 272.7 237.8 274.2 237.7 275.7 237.7 277.2 237.7 278.7 237.6 280.2 237.6 281.7 237.6 283.2 237.6 284.7 237.5 286.2 237.5 287.7 237.5 289.2 237.5 290.7 237.5 292.2 237.5 293.7 237.5 295.2 237.5 296.7 237.6 298.2 237.6 299.7 237.7 301.2 237.7 302.7 237.8 304.2 237.9 305.7 238.0 307.2 238.1 308.7 238.2 310.2 238.3 311.7 238.4 313.2 238.5 314.7 238.6 316.2 238.7 317.7 238.8 319.1 238.9 320.6 239.0 322.1 239.1 323.6 239.2 325.1 239.3 326.6 239.5 328.1 239.6 329.6 239.8 331.1 239.9 332.6 240.1 334.1 240.3 335.6 240.5 337.1 240.6 338.6 240.8 340.0 241.0 341.5 241.2 343.0 241.4 344.5 241.6 346.0 241.7 347.5 241.9 349.0 242.0 350.5 242.1 352.0 242.2 353.5 242.3 355.0 242.4 356.5 242.5 358.0 242.6 359.5 242.6 361.0 242.7 362.5 242.8 364.0 242.9 365.5 242.9 367.0 243.0 368.5 243.0 370.0 243.0 371.5 243.0 373.0 243.0 374.5 242.9 376.0 242.9 377.5 242.9 379.0 242.8 380.5 242.8 382.0 242.7 383.4 242.6 384.9 242.5 386.4 242.4 387.9 242.2 389.4 242.1 390.9 241.9 392.4 241.7 393.9 241.3 395.3 241.0 396.8 240.5 398.2 240.1 399.6 239.6 401.0 239.1 402.5 238.6 403.9 238.0 405.3 237.4 406.6 236.8 408.0 236.2 409.4 235.5 410.7 234.8 412.0 234.1 413.3 233.3 414.6 232.6 415.9 231.7 417.1 230.9 418.4 230.0 419.6 229.2 420.8 228.3 422.0 227.4 423.2 226.4 424.4 225.5 425.6 224.5 426.7 223.6 427.8 222.6 429.0 221.5 430.0 220.5 431.1 219.4 432.1 218.3 433.2 217.2 434.2 216.0 435.2 214.9 436.1 213.8 437.1 212.7 438.1 211.5 439.1 210.4 440.1 209.3 441.1 208.1 442.0 206.9 443.0 205.8 443.9 204.6 444.8 203.3 445.7 202.1 446.6 200.9 447.4 199.6 448.3 198.4 449.1 197.1 449.9 195.8 450.7 194.5 451.5 193.2 452.3 191.9 453.0 190.7 453.8 189.4 454.5 188.1 455.3 186.8 456.1 185.6 456.9 184.3 457.8 183.1 458.6 181.9 459.5 180.7 460.3 179.4 461.2 178.2 462.1 177.0 462.9 175.7 463.8 174.5 464.6 173.2 465.4 172.0 466.3 170.8 467.2 169.6 468.1 168.5 469.1 167.4 470.1 166.3 471.1 165.2 472.2 164.2 473.3 163.2 474.4 162.4 475.7 161.7 477.0 161.1 478.4 160.6 479.9 160.3 481.4 160.5 482.8 161.1 484.1 161.9 485.3 162.9 486.4 164.9 487.0 166.4 487.5 167.9 487.9 169.4 488.3 170.9 488.7 172.3 489.1 173.8 489.5 175.3 489.8 176.8 490.1 178.3 490.4 179.9 490.7 181.4 491.0 182.9 491.2 184.4 491.5 185.9 491.7 187.5 491.9 189.0 492.1 190.6 492.3 192.1 492.5 193.6 492.6 195.1 492.8 196.7 493.0 198.2 493.1 199.7 493.2 201.2 493.4 202.8 493.5 204.3 493.6 205.8 493.7 207.3 493.9 208.8 494.0 210.4 494.1 211.9 494.2 213.4 494.3 214.9 494.4 216.5 494.5 218.0 494.6 219.5 494.7 221.1 494.7 222.6 494.8 224.1 494.9 225.6 495.0 227.1 495.0 228.6 495.1 230.1 495.2 231.6 495.3 233.1 495.3 234.6 495.4 236.1 495.5 237.6 495.6 239.1 495.6 240.6 495.7 242.1 495.8 243.6 495.9 245.1 495.9 246.6 496.0 248.1 496.1 249.6 496.1 251.1 496.2 252.6 496.3 254.1 496.4 255.6 496.4 257.1 496.5 258.6 496.6 260.2 496.6 261.7 496.7 263.2 496.8 264.7 496.8 266.2 496.9 267.7 497.0 269.2 497.0 270.7 497.1 272.2 497.2 273.7 497.2 275.2 497.3 276.7 497.4 278.2 497.4 279.7 497.5 281.2 497.6 282.7 497.6 284.2 497.7 285.7 497.7 287.3 497.8 288.8 497.8 290.3 497.9 291.9 498.0 293.4 498.0 294.9 498.0 296.4 498.1 298.0 498.1 299.5 498.2 301.0 498.2 302.6 498.3 304.1 498.3 305.6 498.3 307.3 498.4 308.9 498.4 310.5 498.4 311.9 498.4 312.0" stroke="#bf7f3f" stroke-width="3.60" fill="none" stroke-dasharray="5.45 5.5" stroke-dashoffset="-2.50" stroke-linejoin="round"/>
<path d="M2.7 267.6 4.2 267.6 5.7 267.6 7.2 267.6 8.7 267.6 10.2 267.6 11.7 267.6 13.2 267.6 14.7 267.6 16.2 267.6 17.7 267.6 19.2 267.6 20.7 267.6 22.2 267.6 23.7 267.6 25.2 267.6 26.7 267.6 28.2 267.6 29.7 267.6 31.2 267.6 32.7 267.6 34.2 267.6 35.7 267.6 37.2 267.6 38.7 267.6 40.2 267.6 41.7 267.6 43.2 267.6 44.7 267.6 46.2 267.6 47.7 267.6 49.2 267.6 50.7 267.6 52.2 267.6 53.7 267.6 55.2 267.6 56.7 267.6 58.2 267.6 59.7 267.6 61.2 267.6 62.7 267.6 64.2 267.6 65.7 267.6 67.2 267.6 68.7 267.6 70.2 267.6 71.7 267.6 73.2 267.6 74.7 267.6 76.2 267.6 77.7 267.6 79.2 267.6 80.7 267.6 82.2 267.6 83.7 267.6 85.2 267.6 86.7 267.6 88.2 267.6 89.7 267.6 91.2 267.6 92.7 267.6 94.2 267.6 95.7 267.6 97.2 267.6 98.7 267.6 100.2 267.6 101.7 267.6 103.2 267.6 104.7 267.6 106.2 267.6 107.7 267.6 109.2 267.6 110.7 267.6 112.2 267.6 113.7 267.6 115.2 267.6 116.7 267.6 118.2 267.6 119.7 267.6 121.2 267.6 122.7 267.6 124.2 267.6 125.7 267.6 127.2 267.6 128.7 267.6 130.2 267.6 131.7 267.6 133.2 267.6 134.7 267.6 136.2 267.6 137.7 267.6 139.2 267.6 140.7 267.6 142.2 267.6 143.7 267.6 145.2 267.6 146.7 267.6 148.2 267.6 149.7 267.6 151.2 267.6 152.7 267.6 154.2 267.6 155.7 267.6 157.2 267.6 158.7 267.6 160.2 267.6 161.7 267.6 163.2 267.6 164.7 267.6 166.2 267.6 167.7 267.5 169.2 267.5 170.7 267.5 172.2 267.5 173.7 267.5 175.2 267.5 176.7 267.5 178.2 267.5 179.7 267.5 181.2 267.5 182.7 267.5 184.2 267.5 185.7 267.5 187.2 267.5 188.7 267.5 190.2 267.5 191.7 267.5 193.2 267.5 194.7 267.5 196.2 267.5 197.7 267.5 199.2 267.5 200.7 267.5 202.2 267.5 203.7 267.5 205.2 267.5 206.7 267.5 208.2 267.5 209.7 267.5 211.2 267.5 212.7 267.5 214.2 267.5 215.7 267.5 217.2 267.5 218.7 267.5 220.2 267.5 221.7 267.4 223.2 267.4 224.7 267.4 226.2 267.4 227.7 267.4 229.2 267.4 230.7 267.4 232.2 267.4 233.7 267.4 235.2 267.4 236.7 267.4 238.2 267.4 239.7 267.4 241.2 267.4 242.7 267.4 244.2 267.4 245.7 267.4 247.2 267.4 248.7 267.3 250.2 267.3 251.7 267.3 253.2 267.3 254.7 267.3 256.2 267.3 257.7 267.3 259.2 267.3 260.7 267.3 262.2 267.3 263.7 267.3 265.2 267.3 266.7 267.3 268.2 267.3 269.7 267.3 271.2 267.2 272.7 267.2 274.2 267.2 275.7 267.2 277.2 267.2 278.7 267.2 280.2 267.2 281.7 267.2 283.2 267.2 284.7 267.2 286.2 267.2 287.7 267.2 289.2 267.2 290.7 267.2 292.2 267.2 293.7 267.1 295.2 267.1 296.7 267.1 298.2 267.1 299.7 267.1 301.2 267.1 302.7 267.1 304.2 267.1 305.7 267.1 307.2 267.1 308.7 267.1 310.2 267.0 311.7 267.0 313.2 267.0 314.7 267.0 316.2 267.0 317.7 267.0 319.2 267.0 320.7 267.0 322.2 267.0 323.7 267.0 325.2 267.0 326.7 267.0 328.2 267.0 329.7 267.0 331.2 267.1 332.7 267.1 334.2 267.2 335.7 267.2 337.2 267.3 338.7 267.4 340.2 267.4 341.7 267.5 343.2 267.6 344.7 267.7 346.2 267.7 347.7 267.8 349.2 267.9 350.7 268.0 352.2 268.0 353.7 268.1 355.2 268.2 356.7 268.3 358.2 268.4 359.7 268.5 361.2 268.6 362.7 268.7 364.2 268.8 365.7 268.8 367.1 268.9 368.6 269.0 370.1 269.1 371.6 269.2 373.1 269.3 374.6 269.3 376.1 269.4 377.6 269.5 379.1 269.5 380.6 269.5 382.1 269.5 383.6 269.5 385.1 269.5 386.6 269.5 388.1 269.5 389.6 269.5 391.1 269.5 392.6 269.5 394.1 269.5 395.6 269.4 397.1 269.3 398.6 269.2 400.1 269.1 401.6 269.0 403.1 268.8 404.6 268.6 406.1 268.3 407.5 267.9 409.0 267.5 410.4 267.1 411.9 266.7 413.3 266.2 414.7 265.7 416.1 265.2 417.5 264.7 418.9 264.1 420.3 263.5 421.7 262.8 423.0 262.2 424.4 261.5 425.7 260.8 427.0 260.1 428.3 259.3 429.6 258.5 430.9 257.7 432.1 256.9 433.4 256.0 434.6 255.1 435.8 254.1 436.9 253.1 438.1 252.1 439.2 251.1 440.3 250.0 441.3 249.0 442.4 247.8 443.4 246.7 444.3 245.5 445.3 244.4 446.3 243.2 447.2 242.1 448.2 241.0 449.2 239.8 450.1 238.7 451.1 237.5 452.1 236.4 453.0 235.2 454.0 234.0 454.9 232.9 455.9 231.7 456.8 230.5 457.7 229.3 458.7 228.2 459.6 227.0 460.5 225.7 461.4 224.5 462.3 223.3 463.1 222.0 463.9 220.7 464.8 219.5 465.6 218.2 466.4 217.0 467.2 215.8 468.1 214.6 469.0 213.4 469.9 212.3 470.9 211.1 471.8 210.0 472.8 208.9 473.9 207.8 474.9 206.7 475.9 205.6 476.9 204.4 477.9 203.4 478.9 202.5 480.2 201.8 481.5 201.1 482.9 200.7 484.4 200.9 485.8 201.6 487.1 202.6 488.2 203.8 489.0 205.3 489.7 206.8 490.3 208.3 490.8 209.8 491.2 211.4 491.5 213.0 491.8 214.6 492.1 216.1 492.3 217.7 492.6 219.2 492.8 220.9 492.9 222.5 493.1 224.0 493.2 225.6 493.3 227.1 493.4 228.6 493.6 230.1 493.7 231.5 493.8 233.0 493.9 234.5 494.1 235.9 494.2 237.4 494.4 238.8 494.5 240.3 494.7 241.8 494.9 243.3 495.0 244.8 495.2 246.3 495.4 247.8 495.5 249.3 495.7 250.8 495.8 252.3 496.0 253.8 496.1 255.4 496.2 256.9 496.4 258.4 496.5 260.0 496.6 261.5 496.7 263.1 496.8 264.6 496.9 266.1 497.0 267.6 497.1 269.2 497.2 270.7 497.3 272.2 497.4 273.7 497.4 275.2 497.5 276.7 497.6 278.2 497.7 279.7 497.8 281.2 497.9 282.7 498.0 284.2 498.0 285.6 498.1 287.1 498.2 288.6 498.3 290.1 498.4 291.6 498.5 293.1 498.6 294.6 498.7 296.1 498.8 297.6 498.9 299.2 499.0 300.7 499.0 302.2 499.1 303.8 499.2 305.3 499.2 306.9 499.3 308.5 499.3 310.1 499.4 311.6 499.4 312.0" stroke="#ff7f00" stroke-width="3.60" fill="none" stroke-dasharray="5.45 5.5" stroke-dashoffset="-2.50" stroke-linejoin="round"/>
<path d="M2.7 283.6 4.2 283.6 5.7 283.6 7.2 283.6 8.7 283.6 10.2 283.6 11.7 283.6 13.2 283.6 14.7 283.6 16.2 283.6 17.7 283.6 19.2 283.6 20.7 283.6 22.2 283.6 23.7 283.6 25.2 283.6 26.7 283.6 28.2 283.6 29.7 283.6 31.2 283.6 32.7 283.6 34.2 283.6 35.7 283.6 37.2 283.6 38.7 283.6 40.2 283.6 41.7 283.6 43.2 283.6 44.7 283.6 46.2 283.6 47.7 283.6 49.2 283.6 50.7 283.6 52.2 283.6 53.7 283.6 55.2 283.6 56.7 283.6 58.2 283.6 59.7 283.6 61.2 283.6 62.7 283.6 64.2 283.6 65.7 283.6 67.2 283.6 68.7 283.6 70.2 283.6 71.7 283.6 73.2 283.6 74.7 283.6 76.2 283.6 77.7 283.6 79.2 283.6 80.7 283.6 82.2 283.6 83.7 283.6 85.2 283.6 86.7 283.6 88.2 283.6 89.7 283.6 91.2 283.6 92.7 283.6 94.2 283.6 95.7 283.6 97.2 283.6 98.7 283.6 100.2 283.6 101.7 283.6 103.2 283.6 104.7 283.6 106.2 283.6 107.7 283.6 109.2 283.6 110.7 283.6 112.2 283.6 113.7 283.6 115.2 283.6 116.7 283.6 118.2 283.6 119.7 283.6 121.2 283.6 122.7 283.6 124.2 283.6 125.7 283.6 127.2 283.6 128.7 283.6 130.2 283.6 131.7 283.6 133.2 283.6 134.7 283.6 136.2 283.6 137.7 283.5 139.2 283.5 140.7 283.5 142.2 283.5 143.7 283.5 145.2 283.5 146.7 283.5 148.2 283.5 149.7 283.5 151.2 283.5 152.7 283.5 154.2 283.5 155.7 283.5 157.2 283.5 158.7 283.5 160.2 283.5 161.7 283.5 163.2 283.5 164.7 283.5 166.2 283.5 167.7 283.5 169.2 283.5 170.7 283.5 172.2 283.5 173.7 283.5 175.2 283.5 176.7 283.4 178.2 283.4 179.7 283.4 181.2 283.4 182.7 283.4 184.2 283.4 185.7 283.4 187.2 283.4 188.7 283.4 190.2 283.4 191.7 283.4 193.2 283.4 194.7 283.4 196.2 283.4 197.7 283.4 199.2 283.4 200.7 283.4 202.2 283.4 203.7 283.4 205.2 283.4 206.7 283.4 208.2 283.4 209.7 283.4 211.2 283.4 212.7 283.4 214.2 283.4 215.7 283.4 217.2 283.4 218.7 283.4 220.2 283.4 221.7 283.4 223.2 283.4 224.7 283.4 226.2 283.4 227.7 283.4 229.2 283.4 230.7 283.4 232.2 283.4 233.7 283.4 235.2 283.4 236.7 283.4 238.2 283.4 239.7 283.4 241.2 283.4 242.7 283.4 244.2 283.4 245.7 283.4 247.2 283.3 248.7 283.3 250.2 283.3 251.7 283.3 253.2 283.3 254.7 283.3 256.2 283.3 257.7 283.3 259.2 283.3 260.7 283.3 262.2 283.3 263.7 283.3 265.2 283.3 266.7 283.3 268.2 283.3 269.7 283.3 271.2 283.3 272.7 283.3 274.2 283.3 275.7 283.3 277.2 283.3 278.7 283.3 280.2 283.3 281.7 283.3 283.2 283.3 284.7 283.3 286.2 283.3 287.7 283.3 289.2 283.3 290.7 283.3 292.2 283.3 293.7 283.3 295.2 283.2 296.7 283.2 298.2 283.2 299.7 283.2 301.2 283.2 302.7 283.2 304.2 283.2 305.7 283.2 307.2 283.2 308.7 283.2 310.2 283.2 311.7 283.1 313.2 283.1 314.7 283.1 316.2 283.1 317.7 283.1 319.2 283.1 320.7 283.1 322.2 283.1 323.7 283.1 325.2 283.1 326.7 283.1 328.2 283.1 329.7 283.1 331.2 283.1 332.7 283.1 334.2 283.2 335.7 283.2 337.2 283.2 338.7 283.2 340.2 283.3 341.7 283.3 343.2 283.3 344.7 283.3 346.2 283.4 347.7 283.4 349.2 283.4 350.7 283.5 352.2 283.5 353.7 283.6 355.2 283.6 356.7 283.7 358.2 283.7 359.7 283.8 361.2 283.8 362.7 283.9 364.2 284.0 365.7 284.0 367.2 284.1 368.7 284.1 370.2 284.1 371.7 284.2 373.2 284.3 374.7 284.3 376.2 284.3 377.7 284.4 379.2 284.4 380.7 284.4 382.2 284.4 383.7 284.4 385.2 284.4 386.7 284.4 388.2 284.4 389.7 284.4 391.2 284.4 392.7 284.4 394.2 284.4 395.7 284.3 397.2 284.2 398.7 284.1 400.2 284.0 401.7 283.9 403.2 283.7 404.7 283.6 406.1 283.4 407.6 283.2 409.1 283.0 410.6 282.7 412.1 282.4 413.5 282.1 415.0 281.8 416.5 281.4 417.9 280.9 419.3 280.4 420.7 279.9 422.2 279.4 423.6 278.9 425.0 278.4 426.4 277.8 427.8 277.3 429.1 276.7 430.5 276.0 431.9 275.4 433.2 274.7 434.6 274.0 435.9 273.3 437.2 272.6 438.5 271.8 439.8 271.0 441.1 270.2 442.3 269.4 443.6 268.5 444.8 267.6 446.0 266.7 447.1 265.7 448.3 264.8 449.4 263.8 450.6 262.7 451.7 261.7 452.7 260.6 453.7 259.4 454.7 258.3 455.7 257.2 456.7 256.0 457.7 254.9 458.7 253.8 459.7 252.7 460.7 251.6 461.7 250.5 462.8 249.4 463.8 248.3 464.8 247.2 465.8 246.1 466.8 245.0 467.8 243.8 468.8 242.6 469.7 241.5 470.6 240.3 471.6 239.2 472.5 238.1 473.6 237.0 474.6 235.9 475.6 234.7 476.6 233.7 477.6 232.6 478.7 231.7 479.9 230.9 481.3 230.5 482.7 230.1 484.2 229.8 485.7 229.8 487.2 230.2 488.6 230.9 489.9 231.7 491.1 233.0 491.9 234.5 492.5 236.1 493.0 237.6 493.5 239.1 493.9 240.6 494.2 242.1 494.6 243.7 494.8 245.5 495.0 247.1 495.2 248.6 495.3 250.2 495.5 251.7 495.6 253.2 495.7 254.8 495.9 256.3 496.0 257.8 496.1 259.4 496.2 260.9 496.3 262.5 496.4 264.0 496.5 265.6 496.6 267.1 496.6 268.6 496.7 270.1 496.8 271.6 496.9 273.1 496.9 274.6 497.0 276.1 497.1 277.6 497.2 279.1 497.2 280.6 497.3 282.1 497.4 283.6 497.5 285.0 497.5 286.5 497.6 288.0 497.7 289.5 497.8 291.0 497.9 292.6 498.0 294.1 498.0 295.7 498.1 297.2 498.2 298.8 498.2 300.4 498.3 301.9 498.3 303.5 498.4 305.0 498.4 306.6 498.4 308.4 498.5 310.0 498.5 311.5 498.5 312.0" stroke="#00aeef" stroke-width="3.60" fill="none" stroke-dasharray="5.45 5.5" stroke-dashoffset="-2.50" stroke-linejoin="round"/>
</g>
<text x="42.1" y="327.3" font-size="17" textLength="31" lengthAdjust="spacingAndGlyphs">-800</text>
<text x="152.8" y="327.3" font-size="17" textLength="31" lengthAdjust="spacingAndGlyphs">-600</text>
<text x="263.5" y="327.3" font-size="17" textLength="31" lengthAdjust="spacingAndGlyphs">-400</text>
<text x="374.1" y="327.3" font-size="17" textLength="31" lengthAdjust="spacingAndGlyphs">-200</text>
<text x="500.3" y="327.3" font-size="17" text-anchor="middle">0</text>
<text x="508.2" y="254.9" font-size="17" textLength="16.8" lengthAdjust="spacingAndGlyphs">20</text>
<text x="508.2" y="198.1" font-size="17" textLength="16.8" lengthAdjust="spacingAndGlyphs">40</text>
<text x="508.2" y="141.2" font-size="17" textLength="16.8" lengthAdjust="spacingAndGlyphs">60</text>
<text x="508.2" y="84.2" font-size="17" textLength="16.8" lengthAdjust="spacingAndGlyphs">80</text>
<rect x="4.5" y="24.6" width="81" height="109.9" fill="#fff" stroke="#000" stroke-width="0.7"/>
<line x1="11.2" y1="38.80" x2="42.7" y2="38.80" stroke="#0000ff" stroke-width="3.60"/>
<text x="48.6" y="43.10" font-size="17" textLength="8.4" lengthAdjust="spacingAndGlyphs">0</text>
<text x="59.90" y="43.10" font-size="17" textLength="8" lengthAdjust="spacingAndGlyphs">a</text>
<line x1="11.2" y1="59.28" x2="42.7" y2="59.28" stroke="#800080" stroke-width="3.60"/>
<text x="48.6" y="63.58" font-size="17" textLength="8.4" lengthAdjust="spacingAndGlyphs">1</text>
<text x="59.90" y="63.58" font-size="17" textLength="8" lengthAdjust="spacingAndGlyphs">a</text>
<line x1="11.2" y1="79.76" x2="42.7" y2="79.76" stroke="#bf7f3f" stroke-width="3.60"/>
<text x="48.6" y="84.06" font-size="17" textLength="16.8" lengthAdjust="spacingAndGlyphs">10</text>
<text x="68.30" y="84.06" font-size="17" textLength="8" lengthAdjust="spacingAndGlyphs">a</text>
<line x1="11.2" y1="100.24" x2="42.7" y2="100.24" stroke="#ff7f00" stroke-width="3.60"/>
<text x="48.6" y="104.54" font-size="17" textLength="16.8" lengthAdjust="spacingAndGlyphs">20</text>
<text x="68.30" y="104.54" font-size="17" textLength="8" lengthAdjust="spacingAndGlyphs">a</text>
<line x1="11.2" y1="120.72" x2="42.7" y2="120.72" stroke="#00aeef" stroke-width="3.60"/>
<text x="48.6" y="125.02" font-size="17" textLength="16.8" lengthAdjust="spacingAndGlyphs">30</text>
<text x="68.30" y="125.02" font-size="17" textLength="8" lengthAdjust="spacingAndGlyphs">a</text>

<g>
<path d="M125 97 L125 56 L300 56 L300 37 L354 37 L354 97 Z" fill="url(#water)"/>
<path d="M208.3 37 L354 37 L354 71.5 L208.3 71.5 Z" fill="url(#band)"/>
<path d="M92.3 97 L92.3 4 C93.58 5.00 97.05 7.92 100.00 10.00 C102.95 12.08 106.67 14.58 110.00 16.50 C113.33 18.42 116.67 20.15 120.00 21.50 C123.33 22.85 126.67 23.70 130.00 24.60 C133.33 25.50 136.67 26.28 140.00 26.90 C143.33 27.52 146.67 27.92 150.00 28.30 C153.33 28.68 156.67 28.95 160.00 29.20 C163.33 29.45 165.00 29.58 170.00 29.80 C175.00 30.02 183.55 30.25 190.00 30.50 C196.45 30.75 201.60 31.35 208.70 31.30 C215.80 31.25 224.27 30.63 232.60 30.20 C240.93 29.77 250.73 29.10 258.70 28.70 C266.67 28.30 273.88 27.80 280.40 27.80 C286.92 27.80 293.08 28.27 297.80 28.70 C302.52 29.13 304.72 29.38 308.70 30.40 C312.68 31.42 319.53 34.07 321.70 34.80 L322.6 37 L312.6 63.6 C312.22 63.48 312.40 63.33 310.30 62.90 C308.20 62.47 303.38 61.43 300.00 61.00 C296.62 60.57 294.17 60.45 290.00 60.30 C285.83 60.15 280.00 60.12 275.00 60.10 C270.00 60.08 267.50 60.01 260.00 60.20 C252.50 60.39 238.50 60.90 230.00 61.25 C221.50 61.60 214.00 61.84 209.00 62.30 C204.00 62.76 203.72 63.40 200.00 64.00 C196.28 64.60 191.15 65.28 186.70 65.90 C182.25 66.52 177.75 67.07 173.30 67.70 C168.85 68.33 164.43 68.82 160.00 69.70 C155.57 70.58 150.03 72.00 146.70 73.00 C143.37 74.00 142.23 74.48 140.00 75.70 C137.77 76.92 135.22 78.83 133.30 80.30 C131.38 81.77 129.30 83.80 128.50 84.50 L126 97 Z" fill="#cadcf8"/>
<rect x="326.2" y="34.1" width="25.1" height="30.6" fill="#cadcf8"/>
<path d="M92.80 80.70 C94.50 80.67 99.13 80.37 103.00 80.50 C106.87 80.63 112.17 80.92 116.00 81.50 C119.83 82.08 123.50 83.40 126.00 84.00 C128.50 84.60 128.67 84.60 131.00 85.10 C133.33 85.60 137.38 86.47 140.00 87.00 C142.62 87.53 144.48 88.18 146.70 88.30 C148.92 88.42 151.08 88.25 153.30 87.70 C155.52 87.15 157.77 85.62 160.00 85.00 C162.23 84.38 164.48 84.22 166.70 84.00 C168.92 83.78 171.08 83.60 173.30 83.70 C175.52 83.80 178.13 84.26 180.00 84.60 C181.87 84.94 183.00 85.23 184.50 85.75 C186.00 86.27 187.25 87.83 189.00 87.70 C190.75 87.58 193.25 85.83 195.00 85.00 C196.75 84.17 198.30 83.42 199.50 82.75 C200.70 82.08 201.33 81.00 202.20 81.00 C203.07 81.00 203.90 82.71 204.70 82.75 C205.50 82.79 206.17 81.88 207.00 81.25 C207.83 80.62 208.83 79.00 209.70 79.00 C210.57 79.00 211.15 80.38 212.20 81.25 C213.25 82.12 214.37 83.62 216.00 84.25 C217.63 84.88 219.75 84.62 222.00 85.00 C224.25 85.38 226.50 85.95 229.50 86.50 C232.50 87.05 237.00 88.10 240.00 88.30 C243.00 88.50 244.50 88.12 247.50 87.70 C250.50 87.28 255.50 86.25 258.00 85.75 C260.50 85.25 261.38 85.38 262.50 84.70 C263.62 84.03 263.95 81.73 264.70 81.70 C265.45 81.67 265.63 83.68 267.00 84.50 C268.37 85.32 270.60 86.07 272.90 86.60 C275.20 87.13 278.42 87.43 280.80 87.70 C283.18 87.97 285.75 88.52 287.20 88.20 C288.65 87.88 288.72 85.88 289.50 85.80 C290.28 85.72 290.18 87.70 291.90 87.70 C293.62 87.70 297.17 86.38 299.80 85.80 C302.43 85.22 305.33 84.60 307.70 84.20 C310.07 83.80 312.15 83.40 314.00 83.40 C315.85 83.40 317.22 83.67 318.80 84.20 C320.38 84.73 321.92 85.67 323.50 86.60 C325.08 87.53 326.97 89.08 328.30 89.80 C329.63 90.52 330.72 90.90 331.50 90.90 C332.28 90.90 332.35 89.85 333.00 89.80 C333.65 89.75 334.47 91.67 335.40 90.60 C336.33 89.53 337.67 83.93 338.60 83.40 C339.53 82.87 340.08 86.20 341.00 87.40 C341.92 88.60 343.05 89.87 344.10 90.60 C345.15 91.33 346.50 91.80 347.30 91.80 C348.10 91.80 348.25 90.62 348.90 90.60 C349.55 90.58 350.42 91.70 351.20 91.70 C351.98 91.70 353.20 90.78 353.60 90.60 L353.6 99.8 L92.8 99.8 Z" fill="url(#rock)"/>
<rect x="208.3" y="22.5" width="116" height="46.6" fill="none" stroke="#000" stroke-width="1.2"/>
<path d="M208.7 31.3 C220 30.8 240 29.8 258.7 28.7 C268 28.1 275 27.7 280.4 27.8 C288 27.9 293 28.2 297.8 28.7 C302 29.2 305 29.7 308.7 30.4 C314 31.8 318 33.2 321.7 34.8" fill="none" stroke="#f01414" stroke-width="1.4"/>
<path d="M103 23.3 C115 28.3 130.5 33.6 144.5 36.4" fill="none" stroke="#000" stroke-width="2.5"/>
<path d="M154.2 38 L143.7 31.4 L145.2 36.4 L142.1 40.6 Z" fill="#000"/>
<text x="108.6" y="14" font-size="16.5" textLength="54.5" lengthAdjust="spacingAndGlyphs">ice flow</text>
<text x="202" y="14" font-size="16.5" textLength="149" lengthAdjust="spacingAndGlyphs">area of investigation</text>
</g>

<text x="497.6" y="17.6" font-size="17" font-style="italic" textLength="9.8" lengthAdjust="spacingAndGlyphs">σ</text>
<text x="507.6" y="20.2" font-size="12.6" font-style="italic" textLength="16" lengthAdjust="spacingAndGlyphs">xx</text>
<text x="528.2" y="17.9" font-size="17" textLength="40.2" lengthAdjust="spacingAndGlyphs">(kPa)</text>
<text x="526.6" y="311" font-size="17" font-style="italic" textLength="9.6" lengthAdjust="spacingAndGlyphs">x</text>
<line x1="542" y1="307.2" x2="552" y2="307.2" stroke="#000" stroke-width="0.85"/>
<text x="557" y="311" font-size="17" font-style="italic" textLength="11" lengthAdjust="spacingAndGlyphs">L</text>
<text x="572.2" y="311" font-size="17" textLength="25.6" lengthAdjust="spacingAndGlyphs">(m)</text>
</svg>
</body></html>
